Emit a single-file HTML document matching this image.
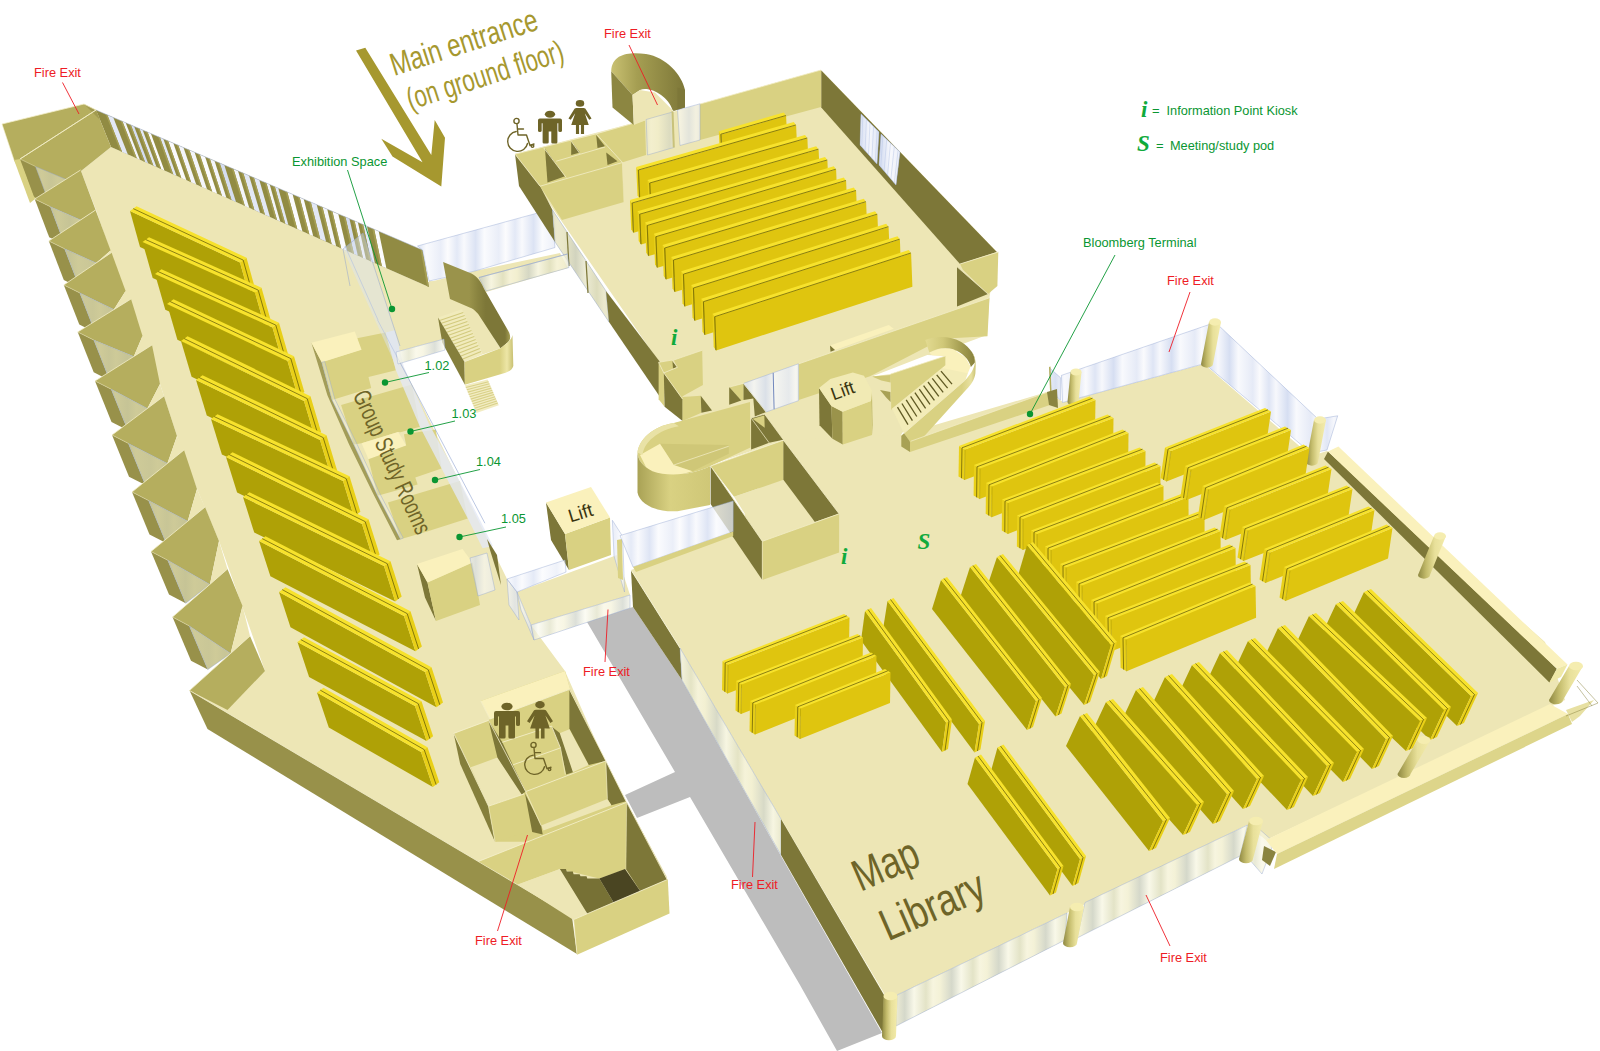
<!DOCTYPE html>
<html><head><meta charset="utf-8"><title>Library floor plan</title>
<style>html,body{margin:0;padding:0;background:#fff}svg{display:block}</style></head>
<body><svg width="1600" height="1051" viewBox="0 0 1600 1051">
<defs>
<linearGradient id="gl" x1="0" y1="0" x2="58" y2="0" gradientUnits="userSpaceOnUse" spreadMethod="repeat">
<stop offset="0" stop-color="#F7F8FC"/><stop offset="0.2" stop-color="#D3DCF1"/><stop offset="0.35" stop-color="#F9FAFD"/><stop offset="0.6" stop-color="#E4E9F6"/><stop offset="0.72" stop-color="#FBFBFD"/><stop offset="0.88" stop-color="#DCE3F4"/><stop offset="1" stop-color="#F7F8FC"/>
</linearGradient>
<linearGradient id="gly" x1="0" y1="0" x2="47" y2="0" gradientUnits="userSpaceOnUse" spreadMethod="repeat">
<stop offset="0" stop-color="#F4F2D8"/><stop offset="0.25" stop-color="#CDD2C8"/><stop offset="0.45" stop-color="#FAFAEE"/><stop offset="0.7" stop-color="#DFE0C4"/><stop offset="0.85" stop-color="#F8F6E2"/><stop offset="1" stop-color="#F4F2D8"/>
</linearGradient>
<linearGradient id="pil" x1="0" y1="0" x2="1" y2="0">
<stop offset="0" stop-color="#8E8842"/><stop offset="0.3" stop-color="#C4BC6C"/><stop offset="0.6" stop-color="#E8E09A"/><stop offset="1" stop-color="#F4ECAC"/>
</linearGradient>
<linearGradient id="curv" x1="0" y1="0" x2="1" y2="0">
<stop offset="0" stop-color="#A9A255"/><stop offset="0.45" stop-color="#D9D182"/><stop offset="1" stop-color="#CFC777"/>
</linearGradient>
<linearGradient id="curvd" x1="0" y1="0" x2="1" y2="0">
<stop offset="0" stop-color="#C9C172"/><stop offset="0.35" stop-color="#A59E52"/><stop offset="1" stop-color="#7D7738"/>
</linearGradient>
<linearGradient id="ribg" x1="443" y1="0" x2="512" y2="0" gradientUnits="userSpaceOnUse">
<stop offset="0" stop-color="#9A934B"/><stop offset="0.38" stop-color="#9A934B"/><stop offset="0.5" stop-color="#8A8440"/><stop offset="0.62" stop-color="#7D7738"/><stop offset="0.9" stop-color="#7D7738"/><stop offset="1" stop-color="#B5AE5E"/>
</linearGradient>
<linearGradient id="frontg" x1="464" y1="0" x2="514" y2="0" gradientUnits="userSpaceOnUse">
<stop offset="0" stop-color="#D9D182"/><stop offset="0.72" stop-color="#D9D182"/><stop offset="0.86" stop-color="#EDE6A6"/><stop offset="1" stop-color="#C4BC6C"/>
</linearGradient>
<linearGradient id="cresc" x1="925" y1="0" x2="976" y2="0" gradientUnits="userSpaceOnUse">
<stop offset="0" stop-color="#E3DB92"/><stop offset="0.35" stop-color="#D0C878"/><stop offset="0.7" stop-color="#A59E52"/><stop offset="1" stop-color="#857F3C"/>
</linearGradient>
<linearGradient id="outerg" x1="905" y1="0" x2="976" y2="0" gradientUnits="userSpaceOnUse">
<stop offset="0" stop-color="#D9D182"/><stop offset="0.8" stop-color="#D9D182"/><stop offset="0.93" stop-color="#E8E1A0"/><stop offset="1" stop-color="#C9C172"/>
</linearGradient>
</defs>
<rect width="1600" height="1051" fill="#fff"/>
<polygon points="587,622 633,607 682,680 781,856 882,1033 837,1051 800,985 690,797 637,818 625,795 675,772" fill="#BDBDBD"/>
<polygon points="111,147 429,287 429,281 470,285 486,292 510,338 444,339 396,352 507,579 517,592 531,625 565,671 605,762 626,801 667,877 572,917 189.5,690.5 265,671 242,606 219,541 197,489 177,436 160,384 142,337 125,292 110,251 96,210 81,171" fill="#EDE6B5"/>
<polygon points="425,283 475,271 560,253 568,268 486,292 470,288" fill="#EDE6B5"/>
<polygon points="517,592 617,555 630,595 531,625" fill="#EDE6B5"/>
<polygon points="96,110 422.5,250 429,287 111,147" fill="#918B43"/>
<polygon points="107.4,114.9 113.3,117.4 127.9,154.4 122.1,151.9" fill="#E3E8F5"/>
<polygon points="122.4,121.3 125.7,122.7 139.9,159.7 136.8,158.3" fill="#F4F5FA"/>
<polygon points="130.9,125 134.2,126.4 148.2,163.4 145,162" fill="#D5DDF0"/>
<polygon points="139.4,128.6 142.7,130 156.5,167 153.3,165.6" fill="#E3E8F5"/>
<polygon points="147.6,132.1 150.9,133.5 164.4,170.5 161.2,169.1" fill="#FBFBFD"/>
<polygon points="160,137.4 163.3,138.8 176.5,175.8 173.3,174.4" fill="#E3E8F5"/>
<polygon points="168.2,140.9 173.4,143.2 186.4,180.2 181.3,177.9" fill="#FBFBFD"/>
<polygon points="178.3,145.3 183.5,147.5 196.2,184.5 191.1,182.3" fill="#F4F5FA"/>
<polygon points="189.4,150 194.6,152.3 207,189.3 201.9,187" fill="#F4F5FA"/>
<polygon points="199.8,154.5 205.1,156.8 217.2,193.8 212.1,191.5" fill="#FBFBFD"/>
<polygon points="209.9,158.9 214.5,160.8 226.4,197.8 222,195.9" fill="#F4F5FA"/>
<polygon points="219.7,163.1 224.3,165 236,202 231.5,200.1" fill="#D5DDF0"/>
<polygon points="233.5,168.9 238,170.9 249.3,207.9 244.9,205.9" fill="#F4F5FA"/>
<polygon points="243.3,173.1 249.1,175.7 260.1,212.7 254.4,210.1" fill="#E3E8F5"/>
<polygon points="254,177.8 259.3,180 270,217 264.9,214.8" fill="#E3E8F5"/>
<polygon points="266.4,183.1 269.7,184.5 280.2,221.5 277,220.1" fill="#F4F5FA"/>
<polygon points="274.9,186.7 278.2,188.1 288.4,225.1 285.3,223.7" fill="#E3E8F5"/>
<polygon points="287.3,192 292.6,194.3 302.4,231.3 297.3,229" fill="#FBFBFD"/>
<polygon points="299.7,197.4 303.7,199 313.2,236 309.4,234.4" fill="#FBFBFD"/>
<polygon points="310.8,202.1 316.7,204.6 326,241.6 320.2,239.1" fill="#E3E8F5"/>
<polygon points="322.6,207.2 327.2,209.1 336.1,246.1 331.7,244.2" fill="#F4F5FA"/>
<polygon points="332.4,211.4 338.3,213.9 347,250.9 341.2,248.4" fill="#FBFBFD"/>
<polygon points="345.4,217 349.4,218.6 357.8,255.6 354,254" fill="#D5DDF0"/>
<polygon points="354.6,220.9 357.9,222.3 366,259.3 362.9,257.9" fill="#F4F5FA"/>
<polygon points="363.1,224.5 367,226.2 374.9,263.2 371.1,261.5" fill="#E3E8F5"/>
<polygon points="374.2,229.3 378.7,231.2 386.4,268.2 381.9,266.3" fill="#FBFBFD"/>
<polygon points="105.5,114.1 107.4,114.9 122.1,151.9 120.2,151.1" fill="#A59E53"/>
<polygon points="120.5,120.5 122.4,121.3 136.8,158.3 134.8,157.5" fill="#A59E53"/>
<polygon points="129.1,124.2 130.9,125 145,162 143.2,161.2" fill="#A59E53"/>
<polygon points="137.6,127.8 139.4,128.6 153.3,165.6 151.5,164.8" fill="#A59E53"/>
<polygon points="145.9,131.4 147.6,132.1 161.2,169.1 159.6,168.4" fill="#A59E53"/>
<polygon points="158,136.6 160,137.4 173.3,174.4 171.4,173.6" fill="#A59E53"/>
<polygon points="166.4,140.2 168.2,140.9 181.3,177.9 179.6,177.2" fill="#A59E53"/>
<polygon points="176.6,144.5 178.3,145.3 191.1,182.3 189.5,181.5" fill="#A59E53"/>
<polygon points="187.4,149.2 189.4,150 201.9,187 200,186.2" fill="#A59E53"/>
<polygon points="198,153.7 199.8,154.5 212.1,191.5 210.3,190.7" fill="#A59E53"/>
<polygon points="208.2,158.1 209.9,158.9 222,195.9 220.3,195.1" fill="#A59E53"/>
<polygon points="217.9,162.3 219.7,163.1 231.5,200.1 229.7,199.3" fill="#A59E53"/>
<polygon points="231.5,168.1 233.5,168.9 244.9,205.9 243,205.1" fill="#A59E53"/>
<polygon points="241.4,172.4 243.3,173.1 254.4,210.1 252.6,209.4" fill="#A59E53"/>
<polygon points="252.3,177 254,177.8 264.9,214.8 263.2,214" fill="#A59E53"/>
<polygon points="264.5,182.2 266.4,183.1 277,220.1 275.1,219.2" fill="#A59E53"/>
<polygon points="273.1,185.9 274.9,186.7 285.3,223.7 283.5,222.9" fill="#A59E53"/>
<polygon points="285.4,191.2 287.3,192 297.3,229 295.4,228.2" fill="#A59E53"/>
<polygon points="297.8,196.5 299.7,197.4 309.4,234.4 307.5,233.5" fill="#A59E53"/>
<polygon points="308.9,201.3 310.8,202.1 320.2,239.1 318.3,238.3" fill="#A59E53"/>
<polygon points="320.6,206.3 322.6,207.2 331.7,244.2 329.8,243.3" fill="#A59E53"/>
<polygon points="330.6,210.6 332.4,211.4 341.2,248.4 339.5,247.6" fill="#A59E53"/>
<polygon points="343.5,216.1 345.4,217 354,254 352,253.1" fill="#A59E53"/>
<polygon points="352.8,220.1 354.6,220.9 362.9,257.9 361.1,257.1" fill="#A59E53"/>
<polygon points="361.2,223.7 363.1,224.5 371.1,261.5 369.3,260.7" fill="#A59E53"/>
<polygon points="372.2,228.4 374.2,229.3 381.9,266.3 380,265.4" fill="#A59E53"/>
<polygon points="420.5,249.2 422.5,250 429,287 427.1,286.2" fill="#A59E53"/>
<polyline points="96,110 422.5,250" fill="none" stroke="#A9B6D8" stroke-width="0.5"/>
<polygon points="2,124 84,104 96,110 111,147 81,171 35,199 14,160" fill="#B5AE5E"/>
<polygon points="14,160 20.5,159 35,199 30,203" fill="#D9D182"/>
<polygon points="84,104 96,110 111,147 100,120" fill="#A29B50"/>
<polyline points="2,124 84,104 96,110 20,159" fill="none" stroke="#F3EEC8" stroke-width="0.8"/>
<polyline points="2,124 14,160" fill="none" stroke="#F3EEC8" stroke-width="0.6"/>
<polygon points="20,159 35.5,166.5 49.5,204 34,196.5" fill="#98914A"/>
<polygon points="35.5,166.5 65.9,179.3 49.5,204" fill="#C2BD7C"/>
<polygon points="35.5,166.5 65.9,179.3 49.5,204" fill="url(#gl)" opacity="0.22"/>
<polygon points="35.5,166.5 65.9,179.3 49.5,204" fill="none" stroke="#8FA3D0" stroke-width="0.5" opacity="0.8"/>
<polyline points="20,159 96,110" fill="none" stroke="#F3EEC8" stroke-width="0.8"/>
<polyline points="20,159 35.5,166.5" fill="none" stroke="#E8E2B0" stroke-width="0.5"/>
<polygon points="34.7,199 80.6,170 95.6,210 80.6,219.9 50.4,206.7" fill="#B5AE5E"/>
<polygon points="95.6,210 80.6,219.9 95.6,210" fill="#EDE6B5"/>
<polygon points="34.7,199 50.4,206.7 64.8,244.9 49.2,237.2" fill="#98914A"/>
<polygon points="50.4,206.7 80.6,219.9 64.8,244.9" fill="#C2BD7C"/>
<polygon points="50.4,206.7 80.6,219.9 64.8,244.9" fill="url(#gl)" opacity="0.22"/>
<polygon points="50.4,206.7 80.6,219.9 64.8,244.9" fill="none" stroke="#8FA3D0" stroke-width="0.5" opacity="0.8"/>
<polyline points="34.7,199 80.6,170" fill="none" stroke="#F3EEC8" stroke-width="0.8"/>
<polyline points="34.7,199 50.4,206.7" fill="none" stroke="#E8E2B0" stroke-width="0.5"/>
<polygon points="48.8,241 95.6,210 110.6,250.6 96.2,262.9 64.6,248.8" fill="#B5AE5E"/>
<polygon points="110.6,250.6 96.2,262.9 111.5,252.5" fill="#EDE6B5"/>
<polygon points="48.8,241 64.6,248.8 79.6,287.7 63.8,279.9" fill="#98914A"/>
<polygon points="64.6,248.8 96.2,262.9 79.6,287.7" fill="#C2BD7C"/>
<polygon points="64.6,248.8 96.2,262.9 79.6,287.7" fill="url(#gl)" opacity="0.22"/>
<polygon points="64.6,248.8 96.2,262.9 79.6,287.7" fill="none" stroke="#8FA3D0" stroke-width="0.5" opacity="0.8"/>
<polyline points="48.8,241 95.6,210" fill="none" stroke="#F3EEC8" stroke-width="0.8"/>
<polyline points="48.8,241 64.6,248.8" fill="none" stroke="#E8E2B0" stroke-width="0.5"/>
<polygon points="63.8,285 111.5,252.5 125.6,291 113.9,309.6 79.8,292.9" fill="#B5AE5E"/>
<polygon points="125.6,291 113.9,309.6 131,299" fill="#EDE6B5"/>
<polygon points="63.8,285 79.8,292.9 95.2,332.6 79.3,324.6" fill="#98914A"/>
<polygon points="79.8,292.9 113.9,309.6 95.2,332.6" fill="#C2BD7C"/>
<polygon points="79.8,292.9 113.9,309.6 95.2,332.6" fill="url(#gl)" opacity="0.22"/>
<polygon points="79.8,292.9 113.9,309.6 95.2,332.6" fill="none" stroke="#8FA3D0" stroke-width="0.5" opacity="0.8"/>
<polyline points="63.8,285 111.5,252.5" fill="none" stroke="#F3EEC8" stroke-width="0.8"/>
<polyline points="63.8,285 79.8,292.9" fill="none" stroke="#E8E2B0" stroke-width="0.5"/>
<polygon points="77.7,332 131,299 142.5,336 133.8,356.5 93.8,340.1" fill="#B5AE5E"/>
<polygon points="142.5,336 133.8,356.5 152,345" fill="#EDE6B5"/>
<polygon points="77.7,332 93.8,340.1 109.8,380.4 93.7,372.3" fill="#98914A"/>
<polygon points="93.8,340.1 133.8,356.5 109.8,380.4" fill="#C2BD7C"/>
<polygon points="93.8,340.1 133.8,356.5 109.8,380.4" fill="url(#gl)" opacity="0.22"/>
<polygon points="93.8,340.1 133.8,356.5 109.8,380.4" fill="none" stroke="#8FA3D0" stroke-width="0.5" opacity="0.8"/>
<polyline points="77.7,332 131,299" fill="none" stroke="#F3EEC8" stroke-width="0.8"/>
<polyline points="77.7,332 93.8,340.1" fill="none" stroke="#E8E2B0" stroke-width="0.5"/>
<polygon points="95,381 152,345 160,384 147.4,408.5 111.2,389.2" fill="#B5AE5E"/>
<polygon points="160,384 147.4,408.5 164,396" fill="#EDE6B5"/>
<polygon points="95,381 111.2,389.2 127.8,430.2 111.5,422" fill="#98914A"/>
<polygon points="111.2,389.2 147.4,408.5 127.8,430.2" fill="#C2BD7C"/>
<polygon points="111.2,389.2 147.4,408.5 127.8,430.2" fill="url(#gl)" opacity="0.22"/>
<polygon points="111.2,389.2 147.4,408.5 127.8,430.2" fill="none" stroke="#8FA3D0" stroke-width="0.5" opacity="0.8"/>
<polyline points="95,381 152,345" fill="none" stroke="#F3EEC8" stroke-width="0.8"/>
<polyline points="95,381 111.2,389.2" fill="none" stroke="#E8E2B0" stroke-width="0.5"/>
<polygon points="112,435 164,396 177,436 167.4,463.4 128.4,443.4" fill="#B5AE5E"/>
<polygon points="177,436 167.4,463.4 184,450" fill="#EDE6B5"/>
<polygon points="112,435 128.4,443.4 145.4,485.1 129,476.7" fill="#98914A"/>
<polygon points="128.4,443.4 167.4,463.4 145.4,485.1" fill="#C2BD7C"/>
<polygon points="128.4,443.4 167.4,463.4 145.4,485.1" fill="url(#gl)" opacity="0.22"/>
<polygon points="128.4,443.4 167.4,463.4 145.4,485.1" fill="none" stroke="#8FA3D0" stroke-width="0.5" opacity="0.8"/>
<polyline points="112,435 164,396" fill="none" stroke="#F3EEC8" stroke-width="0.8"/>
<polyline points="112,435 128.4,443.4" fill="none" stroke="#E8E2B0" stroke-width="0.5"/>
<polygon points="132,492 184,450 197,489 187.7,521.2 148.6,500.6" fill="#B5AE5E"/>
<polygon points="197,489 187.7,521.2 205,507" fill="#EDE6B5"/>
<polygon points="132,492 148.6,500.6 166.1,543 149.5,534.4" fill="#98914A"/>
<polygon points="148.6,500.6 187.7,521.2 166.1,543" fill="#C2BD7C"/>
<polygon points="148.6,500.6 187.7,521.2 166.1,543" fill="url(#gl)" opacity="0.22"/>
<polygon points="148.6,500.6 187.7,521.2 166.1,543" fill="none" stroke="#8FA3D0" stroke-width="0.5" opacity="0.8"/>
<polyline points="132,492 184,450" fill="none" stroke="#F3EEC8" stroke-width="0.8"/>
<polyline points="132,492 148.6,500.6" fill="none" stroke="#E8E2B0" stroke-width="0.5"/>
<polygon points="151,551.5 205,507 219,541 209.9,584.4 167.7,560.2" fill="#B5AE5E"/>
<polygon points="219,541 209.9,584.4 227.5,569" fill="#EDE6B5"/>
<polygon points="151,551.5 167.7,560.2 185.7,603.3 169,594.6" fill="#98914A"/>
<polygon points="167.7,560.2 209.9,584.4 185.7,603.3" fill="#C2BD7C"/>
<polygon points="167.7,560.2 209.9,584.4 185.7,603.3" fill="url(#gl)" opacity="0.22"/>
<polygon points="167.7,560.2 209.9,584.4 185.7,603.3" fill="none" stroke="#8FA3D0" stroke-width="0.5" opacity="0.8"/>
<polyline points="151,551.5 205,507" fill="none" stroke="#F3EEC8" stroke-width="0.8"/>
<polyline points="151,551.5 167.7,560.2" fill="none" stroke="#E8E2B0" stroke-width="0.5"/>
<polygon points="172.5,617 227.5,569 242.5,606 230.6,653.4 189.3,625.9" fill="#B5AE5E"/>
<polygon points="242.5,606 230.6,653.4 250,636" fill="#EDE6B5"/>
<polygon points="172.5,617 189.3,625.9 207.8,669.6 191,660.8" fill="#98914A"/>
<polygon points="189.3,625.9 230.6,653.4 207.8,669.6" fill="#C2BD7C"/>
<polygon points="189.3,625.9 230.6,653.4 207.8,669.6" fill="url(#gl)" opacity="0.22"/>
<polygon points="189.3,625.9 230.6,653.4 207.8,669.6" fill="none" stroke="#8FA3D0" stroke-width="0.5" opacity="0.8"/>
<polyline points="172.5,617 227.5,569" fill="none" stroke="#F3EEC8" stroke-width="0.8"/>
<polyline points="172.5,617 189.3,625.9" fill="none" stroke="#E8E2B0" stroke-width="0.5"/>
<polygon points="189.5,690.5 250,636 265,671 227.5,710" fill="#B5AE5E"/>
<polyline points="189.5,690.5 250,636" fill="none" stroke="#F3EEC8" stroke-width="0.8"/>
<polygon points="189.5,690.5 572,917 577,954 207.5,729" fill="#98914A"/>
<polyline points="189.5,690.5 572,917" fill="none" stroke="#F3EEC8" stroke-width="0.8"/>
<polygon points="130,211 240,262.5 250,298.5 140,247" fill="#AFA106"/>
<polygon points="130,211 136.5,206.2 246.5,257.7 240,262.5" fill="#F7E22C"/>
<polygon points="240,262.5 246.5,257.7 256.5,293.7 250,298.5" fill="#E9D018"/>
<polyline points="133.2,208.6 243.2,260.1 253.2,296.1" fill="none" stroke="#3F3A00" stroke-width="0.6"/>
<polygon points="142.5,242 255,292.5 265.1,328.4 152.7,277.9" fill="#AFA106"/>
<polygon points="142.5,242 149,237.2 261.5,287.7 255,292.5" fill="#F7E22C"/>
<polygon points="255,292.5 261.5,287.7 271.6,323.6 265.1,328.4" fill="#E9D018"/>
<polyline points="145.8,239.6 258.2,290.1 268.4,326" fill="none" stroke="#3F3A00" stroke-width="0.6"/>
<polygon points="155,274 272.5,327.5 282.8,363.3 165.3,309.8" fill="#AFA106"/>
<polygon points="155,274 161.5,269.2 279,322.7 272.5,327.5" fill="#F7E22C"/>
<polygon points="272.5,327.5 279,322.7 289.3,358.5 282.8,363.3" fill="#E9D018"/>
<polyline points="158.2,271.6 275.8,325.1 286.1,360.9" fill="none" stroke="#3F3A00" stroke-width="0.6"/>
<polygon points="167,304 287.5,361 297.9,396.8 177.4,339.8" fill="#AFA106"/>
<polygon points="167,304 173.5,299.2 294,356.2 287.5,361" fill="#F7E22C"/>
<polygon points="287.5,361 294,356.2 304.4,392 297.9,396.8" fill="#E9D018"/>
<polyline points="170.2,301.6 290.8,358.6 301.2,394.4" fill="none" stroke="#3F3A00" stroke-width="0.6"/>
<polygon points="181,341 304,401 314.6,436.7 191.6,376.7" fill="#AFA106"/>
<polygon points="181,341 187.5,336.2 310.5,396.2 304,401" fill="#F7E22C"/>
<polygon points="304,401 310.5,396.2 321.1,431.9 314.6,436.7" fill="#E9D018"/>
<polyline points="184.2,338.6 307.2,398.6 317.9,434.3" fill="none" stroke="#3F3A00" stroke-width="0.6"/>
<polygon points="196,380 320,440 330.8,475.6 206.8,415.6" fill="#AFA106"/>
<polygon points="196,380 202.5,375.2 326.5,435.2 320,440" fill="#F7E22C"/>
<polygon points="320,440 326.5,435.2 337.2,470.8 330.8,475.6" fill="#E9D018"/>
<polyline points="199.2,377.6 323.2,437.6 334,473.2" fill="none" stroke="#3F3A00" stroke-width="0.6"/>
<polygon points="211,419 343,481 353.9,516.5 221.9,454.5" fill="#AFA106"/>
<polygon points="211,419 217.5,414.2 349.5,476.2 343,481" fill="#F7E22C"/>
<polygon points="343,481 349.5,476.2 360.4,511.7 353.9,516.5" fill="#E9D018"/>
<polyline points="214.2,416.6 346.2,478.6 357.1,514.1" fill="none" stroke="#3F3A00" stroke-width="0.6"/>
<polygon points="226,457 362,524 373.1,559.4 237.1,492.4" fill="#AFA106"/>
<polygon points="226,457 232.5,452.2 368.5,519.2 362,524" fill="#F7E22C"/>
<polygon points="362,524 368.5,519.2 379.6,554.6 373.1,559.4" fill="#E9D018"/>
<polyline points="229.2,454.6 365.2,521.6 376.3,557" fill="none" stroke="#3F3A00" stroke-width="0.6"/>
<polygon points="243,497 384,566 395.2,601.4 254.2,532.4" fill="#AFA106"/>
<polygon points="243,497 249.5,492.2 390.5,561.2 384,566" fill="#F7E22C"/>
<polygon points="384,566 390.5,561.2 401.7,596.6 395.2,601.4" fill="#E9D018"/>
<polyline points="246.2,494.6 387.2,563.6 398.4,599" fill="none" stroke="#3F3A00" stroke-width="0.6"/>
<polygon points="259,541 404,616 415.4,651.3 270.4,576.3" fill="#AFA106"/>
<polygon points="259,541 265.5,536.2 410.5,611.2 404,616" fill="#F7E22C"/>
<polygon points="404,616 410.5,611.2 421.9,646.5 415.4,651.3" fill="#E9D018"/>
<polyline points="262.2,538.6 407.2,613.6 418.6,648.9" fill="none" stroke="#3F3A00" stroke-width="0.6"/>
<polygon points="279,592 425,672 436.5,707.2 290.5,627.2" fill="#AFA106"/>
<polygon points="279,592 285.5,587.2 431.5,667.2 425,672" fill="#F7E22C"/>
<polygon points="425,672 431.5,667.2 443,702.4 436.5,707.2" fill="#E9D018"/>
<polyline points="282.2,589.6 428.2,669.6 439.8,704.8" fill="none" stroke="#3F3A00" stroke-width="0.6"/>
<polygon points="297.5,642 415,706 426.6,741.1 309.1,677.1" fill="#AFA106"/>
<polygon points="297.5,642 304,637.2 421.5,701.2 415,706" fill="#F7E22C"/>
<polygon points="415,706 421.5,701.2 433.1,736.3 426.6,741.1" fill="#E9D018"/>
<polyline points="300.8,639.6 418.2,703.6 429.9,738.7" fill="none" stroke="#3F3A00" stroke-width="0.6"/>
<polygon points="317,692.5 421,752 432.8,787 328.8,727.5" fill="#AFA106"/>
<polygon points="317,692.5 323.5,687.7 427.5,747.2 421,752" fill="#F7E22C"/>
<polygon points="421,752 427.5,747.2 439.3,782.2 432.8,787" fill="#E9D018"/>
<polyline points="320.2,690.1 424.2,749.6 436.1,784.6" fill="none" stroke="#3F3A00" stroke-width="0.6"/>
<polygon points="311.4,342.8 321.7,362.2 332,399.9 353.7,444.4 377.6,495.8 400.5,539.2 397,540.3 373.1,493.5 349.1,444.4 327.4,395.3" fill="#A39D58"/>
<polygon points="321.7,362.2 360.5,349.7 357.1,338.3 385.6,332.6 395.9,370.2 368.5,377.1 371.2,388 332,399.9" fill="#D9D182"/>
<polygon points="311.4,342.8 354.8,331.4 361.6,349.7 321.7,362.2" fill="#FAF1BC"/>
<polygon points="341.1,404.9 411.9,384.6 419.9,426.8 400.5,432.3 398.2,431.9 361.6,443.3 353.7,444.4" fill="#D9D182"/>
<polygon points="361.6,443.3 398.2,431.9 406.2,445.6 368.5,459.3" fill="#FAF1BC"/>
<polygon points="368.5,459.3 406.2,445.6 403.9,434.2 435.8,429.6 441.6,468.4 415.3,477.5 417.6,484.4 377.6,495.8" fill="#D9D182"/>
<polygon points="387.9,502.6 459.8,481 467.8,518.6 427.9,531.2 400.5,539.2" fill="#D9D182"/>
<polygon points="321.7,362.2 332,399.9 353.7,444.4 377.6,495.8 400.5,539.2 403.2,538 380.4,494.7 356.6,443.3 334.7,398.8 324.7,361.6" fill="url(#gl)" opacity="0.3"/>
<polygon points="321.7,362.2 332,399.9 353.7,444.4 377.6,495.8 400.5,539.2 403.2,538 380.4,494.7 356.6,443.3 334.7,398.8 324.7,361.6" fill="none" stroke="#8FA3D0" stroke-width="0.5" opacity="0.8"/>
<polygon points="385.6,332.6 395.9,370.2 419.9,426.8 441.6,468.4 467.8,518.6 482.6,548.3 492.9,546 478.1,516.3 451.8,466.1 429,423.9 403.9,366.8 394.7,330.3" fill="#E3E9F5" opacity="0.8"/>
<polyline points="377.6,320 484.9,523.2" fill="none" stroke="#8FA3D0" stroke-width="0.6"/>
<polyline points="345,246 378,320" fill="none" stroke="#8FA3D0" stroke-width="0.6"/>
<polygon points="343,249 363,233 400,346 394,362" fill="#DCE4F4" opacity="0.45"/>
<polyline points="343,249 363,233 400,346" fill="none" stroke="#8FA3D0" stroke-width="0.5"/>
<polyline points="343,249 350,286" fill="none" stroke="#8FA3D0" stroke-width="0.5"/>
<polygon points="417,564 427.5,582.5 436,621 425,597.5" fill="#7D7738"/>
<polygon points="427.5,582.5 472.5,562.5 480,605 436,621" fill="#D9D182"/>
<polygon points="417,564 462.5,549 472.5,562.5 427.5,582.5" fill="#FAF1BC"/>
<polygon points="470,558 487,553 495,590 478,596" fill="url(#gl)" opacity="0.6"/>
<polygon points="470,558 487,553 495,590 478,596" fill="none" stroke="#8FA3D0" stroke-width="0.5" opacity="0.8"/>
<polygon points="487,539 497,555 501,585 490,550" fill="#7D7738"/>
<polygon points="507,579 517,592 519,620 509,605" fill="url(#gl)" opacity="0.7"/>
<polygon points="507,579 517,592 519,620 509,605" fill="none" stroke="#8FA3D0" stroke-width="0.5" opacity="0.8"/>
<polygon points="517,592 531,625 534,640 521,610" fill="url(#gl)" opacity="0.7"/>
<polygon points="517,592 531,625 534,640 521,610" fill="none" stroke="#8FA3D0" stroke-width="0.5" opacity="0.8"/>
<polygon points="546,502.5 565,534 569,570 551,540" fill="#7D7738"/>
<polygon points="565,534 610,517.5 611,555 569,570" fill="#D9D182"/>
<polygon points="546,502.5 591,487 610,517.5 565,534" fill="#FAF1BC"/>
<polygon points="507,579 565,560 566,572 517,592" fill="url(#gl)" opacity="0.6"/>
<polygon points="507,579 565,560 566,572 517,592" fill="none" stroke="#8FA3D0" stroke-width="0.5" opacity="0.8"/>
<polygon points="612.4,520.3 622.7,536.5 624.5,592 614,556" fill="url(#gl)" opacity="0.7"/>
<polygon points="612.4,520.3 622.7,536.5 624.5,592 614,556" fill="none" stroke="#8FA3D0" stroke-width="0.5" opacity="0.8"/>
<polygon points="531,625 630,595 630,608 534,640" fill="url(#gly)" opacity="0.7"/>
<polygon points="531,625 630,595 630,608 534,640" fill="none" stroke="#8FA3D0" stroke-width="0.5" opacity="0.8"/>
<polygon points="617,540 622,539 623,580 618,578" fill="#D9D182"/>
<polygon points="453.7,733.4 488.5,720.4 490,719 480.9,701 565,670.9 570,689.1 605.8,760.9 626,801.3 626,809.4 530.6,841.7 495,841.7" fill="#D9D182"/>
<polygon points="480.9,701 565,670.9 570,689.1 490,719" fill="#FAF1BC"/>
<polygon points="558.9,733.4 569.4,729.3 588.8,764.9 572.6,772.2" fill="#EDE6B5"/>
<polygon points="551.6,726.6 559.7,733 572.9,772.2 566.2,774.6 560.5,747.9" fill="#7D7738"/>
<polygon points="569.4,689.4 605.8,760.9 588.8,764.9 569.4,728.5" fill="#7D7738"/>
<polygon points="605.8,760.9 626,801.3 611.4,805.3 607.4,798.9 606.6,777" fill="#7D7738"/>
<polygon points="470.7,767.3 497.4,757.6 524.1,794 488.5,806.2" fill="#EDE6B5"/>
<polygon points="453.7,733.4 488.5,806.2 495,841.7 460.2,764.1" fill="#857F3C"/>
<polygon points="488.5,806.2 524.1,794 530.6,831.2 495,841.7" fill="#D9D182"/>
<polygon points="488.5,720.4 502.3,742.3 512.8,764.9 525.7,791.6 521.7,794.5 497.4,757.6" fill="#7D7738"/>
<polygon points="541.1,825.6 607.4,798.9 611.4,805.3 543.5,830.4" fill="#EDE6B5"/>
<polygon points="524.9,793.2 541.1,825.6 542.7,834.5 532.2,832" fill="#7D7738"/>
<polyline points="453.7,733.4 488.5,720.4 525.7,791.6 605.8,760.9" fill="none" stroke="#F6F1CF" stroke-width="0.8"/>
<polyline points="453.7,733.4 488.5,806.2 524.1,794" fill="none" stroke="#F6F1CF" stroke-width="0.8"/>
<polyline points="488.5,806.2 495,841.7" fill="none" stroke="#F6F1CF" stroke-width="0.6"/>
<polyline points="480.9,701 490,719 569.4,689.4" fill="none" stroke="#F6F1CF" stroke-width="0.8"/>
<polyline points="502.3,742.3 551.6,726.1 560.5,747.9 512.8,764.9" fill="none" stroke="#F6F1CF" stroke-width="0.8"/>
<polyline points="560.5,747.9 565.3,774.6" fill="none" stroke="#F6F1CF" stroke-width="0.6"/>
<polyline points="525.7,791.6 541.1,825.6" fill="none" stroke="#F6F1CF" stroke-width="0.7"/>
<polyline points="569.4,689.4 605.8,760.9 626,801.3" fill="none" stroke="#F6F1CF" stroke-width="0.8"/>
<polyline points="605.8,760.9 607.4,798.9" fill="none" stroke="#F6F1CF" stroke-width="0.6"/>
<polygon points="478.5,861.4 626.7,802.3 625.9,869.1 599.3,878.5 559.9,869.1 517.9,884.5" fill="#D9D182"/>
<polyline points="478.5,861.4 626.7,802.3" fill="none" stroke="#F6F1CF" stroke-width="0.8"/>
<polygon points="626.7,802.3 667.5,879.7 640.4,891.3 625.9,869.1" fill="#7D7738"/>
<polyline points="626.7,802.3 667,879.3" fill="none" stroke="#F6F1CF" stroke-width="0.8"/>
<polyline points="626.7,802.3 625.9,869.1" fill="none" stroke="#EDE6B5" stroke-width="0.5"/>
<polygon points="517.9,884.5 559.9,869.1 587.7,914.3 573.6,919.9" fill="#EDE6B5"/>
<polygon points="559.9,869.1 565.9,869.1 566.8,871.6 572.8,871.6 573.6,874.2 579.6,874.2 580.5,876.3 586.5,876.3 587.3,878.5 599.3,878.5 613.9,903 587.7,914.3" fill="#777135"/>
<polygon points="599.3,878.5 625,869.1 640.4,891.3 613.9,903" fill="#4A4522"/>
<polygon points="573.6,919.6 667.8,879.3 669.5,913.6 577,954.7" fill="#D9D182"/>
<polyline points="573.6,919.6 667.8,879.3" fill="none" stroke="#F6F1CF" stroke-width="0.8"/>
<polyline points="573.6,919.6 577,954.7" fill="none" stroke="#F6F1CF" stroke-width="0.6"/>
<polygon points="515,154 645,120 700,104 821,70 997,252 989.4,297.8 987,335 960,345 901,435 835,514 784,440 710,465 675,423 683,421 665,398 659,362" fill="#EDE6B5"/>
<polygon points="631,570 735,533 784,440 901,435 1047,392 1063,402 1204,364 1311,456 1327,451 1545,642 1565,700 1266,840 1247,825 1067,913 897,995 885,995 781,819 680,648" fill="#EDE6B5"/>
<polygon points="417.5,246 534,214 551,209 555,247.5 475,271 429,281 422.5,250" fill="url(#gl)" opacity="0.8"/>
<polygon points="417.5,246 534,214 551,209 555,247.5 475,271 429,281 422.5,250" fill="none" stroke="#8FA3D0" stroke-width="0.5" opacity="0.8"/>
<polygon points="515,154 540,186 552.5,210 555,242 519,186" fill="#7D7738"/>
<polygon points="552.5,210 606,291 609,322 555,242" fill="#D9D6B0"/>
<polygon points="552.5,210 606,291 609,322 555,242" fill="url(#gly)" opacity="0.6"/>
<polygon points="552.5,210 606,291 609,322 555,242" fill="none" stroke="#8FA3D0" stroke-width="0.5" opacity="0.8"/>
<polyline points="567,232 569,266" fill="none" stroke="#7D7738" stroke-width="1.2"/>
<polyline points="586,261 588,293" fill="none" stroke="#7D7738" stroke-width="1.2"/>
<polygon points="606,291 660,362 660,397 609,322" fill="#7D7738"/>
<polygon points="479,277.5 567.5,254 569,267.5 486,291" fill="url(#gly)" opacity="0.75"/>
<polygon points="479,277.5 567.5,254 569,267.5 486,291" fill="none" stroke="#8FA3D0" stroke-width="0.5" opacity="0.8"/>
<polyline points="479,277.5 567.5,254" fill="none" stroke="#8FA3D0" stroke-width="0.5"/>
<polygon points="461.1,309.3 469.7,307.6 478.2,314 500.5,348.2 482.5,354.4" fill="#EDE6B5"/>
<path d="M443.1,261.9 L471.4,273.4 C477.4,276 481.6,282.8 484.7,290 L508.2,330.8 C510.8,335 510.8,339.3 508.2,341.9 L500.5,348.2 L478.2,314 C474.8,310.2 472.2,308.5 469.7,307.6 L450,299.1 Z" fill="url(#ribg)"/>
<polygon points="438,317.4 462,309.3 482.5,354.4 464.5,361.9" fill="#F1EBBC"/>
<polyline points="439.7,320.4 463.3,312.4" fill="none" stroke="#D2CA7E" stroke-width="1.1"/>
<polyline points="441.5,323.3 464.7,315.4" fill="none" stroke="#D2CA7E" stroke-width="1.1"/>
<polyline points="443.3,326.3 466.1,318.4" fill="none" stroke="#D2CA7E" stroke-width="1.1"/>
<polyline points="445.1,329.3 467.4,321.4" fill="none" stroke="#D2CA7E" stroke-width="1.1"/>
<polyline points="446.8,332.2 468.8,324.4" fill="none" stroke="#D2CA7E" stroke-width="1.1"/>
<polyline points="448.6,335.2 470.2,327.4" fill="none" stroke="#D2CA7E" stroke-width="1.1"/>
<polyline points="450.4,338.2 471.5,330.4" fill="none" stroke="#D2CA7E" stroke-width="1.1"/>
<polyline points="452.1,341.1 472.9,333.4" fill="none" stroke="#D2CA7E" stroke-width="1.1"/>
<polyline points="453.9,344.1 474.3,336.4" fill="none" stroke="#D2CA7E" stroke-width="1.1"/>
<polyline points="455.7,347.1 475.7,339.4" fill="none" stroke="#D2CA7E" stroke-width="1.1"/>
<polyline points="457.4,350 477,342.4" fill="none" stroke="#D2CA7E" stroke-width="1.1"/>
<polyline points="459.2,353 478.4,345.4" fill="none" stroke="#D2CA7E" stroke-width="1.1"/>
<polyline points="461,356 479.8,348.4" fill="none" stroke="#D2CA7E" stroke-width="1.1"/>
<polyline points="462.8,358.9 481.1,351.4" fill="none" stroke="#D2CA7E" stroke-width="1.1"/>
<polygon points="438,317.4 464.5,361.9 464.9,384.7 442.3,342.7" fill="#857F3C"/>
<path d="M464.5,361.9 L500.5,348.2 L508.2,341.9 C510.8,339.3 512.1,337.6 512.5,335 L513.3,365.9 C512.5,369.3 509,371.5 505.6,372.7 L464.9,384.7 Z" fill="url(#frontg)"/>
<polygon points="464.9,385.2 487.6,379.6 498.8,405.2 476.5,412.9" fill="#F2ECC2"/>
<polyline points="465.8,387.5 488.6,381.7" fill="none" stroke="#D9D188" stroke-width="1.1"/>
<polyline points="466.8,389.8 489.5,383.8" fill="none" stroke="#D9D188" stroke-width="1.1"/>
<polyline points="467.8,392.1 490.4,386" fill="none" stroke="#D9D188" stroke-width="1.1"/>
<polyline points="468.7,394.5 491.3,388.1" fill="none" stroke="#D9D188" stroke-width="1.1"/>
<polyline points="469.7,396.8 492.3,390.3" fill="none" stroke="#D9D188" stroke-width="1.1"/>
<polyline points="470.7,399.1 493.2,392.4" fill="none" stroke="#D9D188" stroke-width="1.1"/>
<polyline points="471.7,401.4 494.1,394.5" fill="none" stroke="#D9D188" stroke-width="1.1"/>
<polyline points="472.6,403.7 495.1,396.7" fill="none" stroke="#D9D188" stroke-width="1.1"/>
<polyline points="473.6,406 496,398.8" fill="none" stroke="#D9D188" stroke-width="1.1"/>
<polyline points="474.6,408.3 496.9,401" fill="none" stroke="#D9D188" stroke-width="1.1"/>
<polyline points="475.5,410.6 497.8,403.1" fill="none" stroke="#D9D188" stroke-width="1.1"/>
<polygon points="396,352 444,339 445,350 398,364" fill="url(#gly)" opacity="0.7"/>
<polygon points="396,352 444,339 445,350 398,364" fill="none" stroke="#8FA3D0" stroke-width="0.5" opacity="0.8"/>
<polygon points="700,104 821,70 821,107 700,140" fill="#D9D182"/>
<polyline points="700,104 821,70" fill="none" stroke="#F3EEC8" stroke-width="0.8"/>
<polygon points="821.3,70.6 996.8,252 960,264 821.3,107.5" fill="#7D7738"/>
<polygon points="861,114 879,132 877,164 860,145" fill="#F1F3FA"/>
<polygon points="861,114 879,132 877,164 860,145" fill="url(#gl)" opacity="0.8"/>
<polygon points="861,114 879,132 877,164 860,145" fill="none" stroke="#8FA3D0" stroke-width="0.5" opacity="0.8"/>
<polygon points="881,134 900,152 896,185 879,165" fill="#F1F3FA"/>
<polygon points="881,134 900,152 896,185 879,165" fill="url(#gl)" opacity="0.8"/>
<polygon points="881,134 900,152 896,185 879,165" fill="none" stroke="#8FA3D0" stroke-width="0.5" opacity="0.8"/>
<polyline points="862.8,115.8 861.7,146.9" fill="none" stroke="#B9C6E6" stroke-width="0.5"/>
<polyline points="882.9,135.8 880.7,167" fill="none" stroke="#B9C6E6" stroke-width="0.5"/>
<polyline points="866.4,119.4 865.1,150.7" fill="none" stroke="#B9C6E6" stroke-width="0.5"/>
<polyline points="886.7,139.4 884.1,171" fill="none" stroke="#B9C6E6" stroke-width="0.5"/>
<polyline points="870,123 868.5,154.5" fill="none" stroke="#B9C6E6" stroke-width="0.5"/>
<polyline points="890.5,143 887.5,175" fill="none" stroke="#B9C6E6" stroke-width="0.5"/>
<polyline points="873.6,126.6 871.9,158.3" fill="none" stroke="#B9C6E6" stroke-width="0.5"/>
<polyline points="894.3,146.6 890.9,179" fill="none" stroke="#B9C6E6" stroke-width="0.5"/>
<polyline points="877.2,130.2 875.3,162.1" fill="none" stroke="#B9C6E6" stroke-width="0.5"/>
<polyline points="898.1,150.2 894.3,183" fill="none" stroke="#B9C6E6" stroke-width="0.5"/>
<polygon points="960,264 998.3,252 997.4,286 988,294 962.9,269.8" fill="#D9D182"/>
<polygon points="957,266.8 988,294 957,306.6" fill="#7D7738"/>
<polyline points="960,264 998.3,252" fill="none" stroke="#F3EEC8" stroke-width="0.8"/>
<polyline points="957,266.8 988,294" fill="none" stroke="#F3EEC8" stroke-width="0.7"/>
<polygon points="515,154 596,134 645,120 646,155 622,162.5 624,202 562,220 540,186" fill="#D9D182"/>
<polygon points="545,148.8 565,176.2 547.5,182.5" fill="#7D7738"/>
<polygon points="571.2,141.2 580,152.5 571.2,155" fill="#7D7738"/>
<polygon points="596.2,135 605,146.2 597.5,148" fill="#7D7738"/>
<polygon points="606.2,152.5 617.5,161.2 607.5,165" fill="#7D7738"/>
<polyline points="515,154.2 596.2,133.8 645,120" fill="none" stroke="#F3EEC8" stroke-width="0.8"/>
<polyline points="515,154.2 540,186.2 622.5,162.5 596.2,133.8" fill="none" stroke="#F3EEC8" stroke-width="0.8"/>
<polyline points="543.8,148 566.2,177.5" fill="none" stroke="#F3EEC8" stroke-width="0.8"/>
<polyline points="556.2,161.2 605,147" fill="none" stroke="#F3EEC8" stroke-width="0.8"/>
<polyline points="571.2,141.2 580,153.8" fill="none" stroke="#F3EEC8" stroke-width="0.8"/>
<polyline points="622.5,162.5 623.8,202.5" fill="none" stroke="#EDE6B5" stroke-width="0.6"/>
<path d="M611.2,71.2 C612,52 632,52 646,54 C666,57 682,75 685,90 L685,107.5 L673.8,111 L672.5,110 C668,96 650,86 640,90 L632.5,95 Z" fill="url(#curvd)"/>
<polygon points="611.2,71.2 632.5,95 633.8,125 612.5,107.5" fill="#8C8641"/>
<polygon points="632.5,95 640,90 655,92.5 672.5,110 672.5,113.8 646.2,120 633.8,125" fill="#EDE6B5"/>
<polygon points="677.5,87.5 685,90 685,107.5 677.5,110" fill="#7D7738"/>
<polygon points="646.2,119.5 672.5,112 673.8,147.5 647.5,155" fill="url(#gly)" opacity="0.55"/>
<polygon points="646.2,119.5 672.5,112 673.8,147.5 647.5,155" fill="none" stroke="#8FA3D0" stroke-width="0.5" opacity="0.8"/>
<polygon points="677.5,110 700,103.8 700,140 680,145.5" fill="url(#gl)" opacity="0.6"/>
<polygon points="677.5,110 700,103.8 700,140 680,145.5" fill="none" stroke="#8FA3D0" stroke-width="0.5" opacity="0.8"/>
<polyline points="672.5,111.2 673.8,147.5" fill="none" stroke="#C9C27A" stroke-width="2"/>
<polygon points="721.1,134.6 786.1,115.8 787.4,143.8 722.4,162.6" fill="#DFC50F"/>
<polygon points="718.8,131.2 721.1,134.6 722.4,162.6 720,159.2" fill="#E9D018"/>
<polygon points="718.8,131.2 783.8,112.5 786.1,115.8 721.1,134.6" fill="#F7E22C"/>
<polyline points="722.1,162.2 720.9,134.2 785.9,115.5" fill="none" stroke="#3F3A00" stroke-width="0.6"/>
<polyline points="722.4,162.6 721.1,134.6" fill="none" stroke="#8E8200" stroke-width="0.4"/>
<polygon points="638.6,170.3 796.1,125.3 797.4,153.8 639.9,198.8" fill="#DFC50F"/>
<polygon points="636.2,167 638.6,170.3 639.9,198.8 637.5,195.4" fill="#E9D018"/>
<polygon points="636.2,167 793.8,122 796.1,125.3 638.6,170.3" fill="#F7E22C"/>
<polyline points="639.6,198.4 638.4,170 795.9,125" fill="none" stroke="#3F3A00" stroke-width="0.6"/>
<polyline points="639.9,198.8 638.6,170.3" fill="none" stroke="#8E8200" stroke-width="0.4"/>
<polygon points="649.9,183.3 807.4,138.3 808.6,167.2 651.1,212.2" fill="#DFC50F"/>
<polygon points="647.5,180 649.9,183.3 651.1,212.2 648.7,208.9" fill="#E9D018"/>
<polygon points="647.5,180 805,135 807.4,138.3 649.9,183.3" fill="#F7E22C"/>
<polyline points="650.9,211.9 649.7,183 807.2,138" fill="none" stroke="#3F3A00" stroke-width="0.6"/>
<polyline points="651.1,212.2 649.9,183.3" fill="none" stroke="#8E8200" stroke-width="0.4"/>
<polygon points="632.4,203.3 818.6,149.6 819.9,178.9 633.6,232.7" fill="#DFC50F"/>
<polygon points="630,200 632.4,203.3 633.6,232.7 631.2,229.3" fill="#E9D018"/>
<polygon points="630,200 816.2,146.2 818.6,149.6 632.4,203.3" fill="#F7E22C"/>
<polyline points="633.4,232.3 632.2,203 818.4,149.2" fill="none" stroke="#3F3A00" stroke-width="0.6"/>
<polyline points="633.6,232.7 632.4,203.3" fill="none" stroke="#8E8200" stroke-width="0.4"/>
<polygon points="737.5,194.5 744,192.5 745,203.8 738.5,205.8" fill="#DFC50F"/>
<polygon points="737,193.9 743.5,191.9 746.6,196.1 740.1,198.1" fill="#DFC50F"/>
<polygon points="746.2,195.5 748.2,194.9 749.2,206.2 747.2,206.8" fill="#B9A50A"/>
<polygon points="639.9,214.6 827.4,160.3 828.6,190.1 641.1,244.4" fill="#DFC50F"/>
<polygon points="637.5,211.2 639.9,214.6 641.1,244.4 638.7,241.1" fill="#E9D018"/>
<polygon points="637.5,211.2 825,157 827.4,160.3 639.9,214.6" fill="#F7E22C"/>
<polyline points="640.9,244 639.7,214.2 827.2,160" fill="none" stroke="#3F3A00" stroke-width="0.6"/>
<polyline points="641.1,244.4 639.9,214.6" fill="none" stroke="#8E8200" stroke-width="0.4"/>
<polygon points="647.4,225.8 836.1,169.6 837.4,199.8 648.6,256.1" fill="#DFC50F"/>
<polygon points="645,222.5 647.4,225.8 648.6,256.1 646.2,252.8" fill="#E9D018"/>
<polygon points="645,222.5 833.8,166.2 836.1,169.6 647.4,225.8" fill="#F7E22C"/>
<polyline points="648.4,255.7 647.2,225.5 835.9,169.2" fill="none" stroke="#3F3A00" stroke-width="0.6"/>
<polyline points="648.6,256.1 647.4,225.8" fill="none" stroke="#8E8200" stroke-width="0.4"/>
<polygon points="656.1,237.1 846.1,180.8 847.4,211.5 657.4,267.8" fill="#DFC50F"/>
<polygon points="653.8,233.8 656.1,237.1 657.4,267.8 655,264.4" fill="#E9D018"/>
<polygon points="653.8,233.8 843.8,177.5 846.1,180.8 656.1,237.1" fill="#F7E22C"/>
<polyline points="657.1,267.4 655.9,236.7 845.9,180.5" fill="none" stroke="#3F3A00" stroke-width="0.6"/>
<polyline points="657.4,267.8 656.1,237.1" fill="none" stroke="#8E8200" stroke-width="0.4"/>
<polygon points="664.9,248.3 856.1,190.8 857.4,222 666.1,279.4" fill="#DFC50F"/>
<polygon points="662.5,245 664.9,248.3 666.1,279.4 663.7,276.1" fill="#E9D018"/>
<polygon points="662.5,245 853.8,187.5 856.1,190.8 664.9,248.3" fill="#F7E22C"/>
<polyline points="665.9,279.1 664.7,248 855.9,190.5" fill="none" stroke="#3F3A00" stroke-width="0.6"/>
<polyline points="666.1,279.4 664.9,248.3" fill="none" stroke="#8E8200" stroke-width="0.4"/>
<polygon points="673.6,260.3 866.1,202.1 867.4,233.7 674.9,291.9" fill="#DFC50F"/>
<polygon points="671.2,257 673.6,260.3 674.9,291.9 672.5,288.6" fill="#E9D018"/>
<polygon points="671.2,257 863.8,198.8 866.1,202.1 673.6,260.3" fill="#F7E22C"/>
<polyline points="674.6,291.6 673.4,260 865.9,201.7" fill="none" stroke="#3F3A00" stroke-width="0.6"/>
<polyline points="674.9,291.9 673.6,260.3" fill="none" stroke="#8E8200" stroke-width="0.4"/>
<polygon points="683.6,274.6 877.4,214.6 878.6,246.6 684.9,306.6" fill="#DFC50F"/>
<polygon points="681.2,271.2 683.6,274.6 684.9,306.6 682.5,303.3" fill="#E9D018"/>
<polygon points="681.2,271.2 875,211.2 877.4,214.6 683.6,274.6" fill="#F7E22C"/>
<polyline points="684.6,306.3 683.4,274.2 877.2,214.2" fill="none" stroke="#3F3A00" stroke-width="0.6"/>
<polyline points="684.9,306.6 683.6,274.6" fill="none" stroke="#8E8200" stroke-width="0.4"/>
<polygon points="693.6,288.3 888.6,227.1 889.9,259.6 694.9,320.8" fill="#DFC50F"/>
<polygon points="691.2,285 693.6,288.3 694.9,320.8 692.5,317.5" fill="#E9D018"/>
<polygon points="691.2,285 886.2,223.8 888.6,227.1 693.6,288.3" fill="#F7E22C"/>
<polyline points="694.6,320.5 693.4,288 888.4,226.7" fill="none" stroke="#3F3A00" stroke-width="0.6"/>
<polyline points="694.9,320.8 693.6,288.3" fill="none" stroke="#8E8200" stroke-width="0.4"/>
<polygon points="703.6,302.1 899.9,239.6 901.1,272.5 704.9,335" fill="#DFC50F"/>
<polygon points="701.2,298.8 703.6,302.1 704.9,335 702.5,331.7" fill="#E9D018"/>
<polygon points="701.2,298.8 897.5,236.2 899.9,239.6 703.6,302.1" fill="#F7E22C"/>
<polyline points="704.6,334.7 703.4,301.7 899.7,239.2" fill="none" stroke="#3F3A00" stroke-width="0.6"/>
<polyline points="704.9,335 703.6,302.1" fill="none" stroke="#8E8200" stroke-width="0.4"/>
<polygon points="714.9,317.1 911.1,253.3 912.4,286.7 716.1,350.4" fill="#DFC50F"/>
<polygon points="712.5,313.8 714.9,317.1 716.1,350.4 713.7,347.1" fill="#E9D018"/>
<polygon points="712.5,313.8 908.8,250 911.1,253.3 714.9,317.1" fill="#F7E22C"/>
<polyline points="715.9,350.1 714.7,316.7 910.9,253" fill="none" stroke="#3F3A00" stroke-width="0.6"/>
<polyline points="716.1,350.4 714.9,317.1" fill="none" stroke="#8E8200" stroke-width="0.4"/>
<polygon points="658.6,362.3 663.8,372.9 664.6,406.7 658.6,399.2" fill="#D9D182"/>
<polygon points="663.8,372.9 682.6,399.2 682.6,421 664.6,406.7" fill="#7D7738"/>
<polygon points="663.8,372.9 677.4,367.6 673.6,360.1 702.2,350.3 702.9,384.9 682.6,396.2 682.6,399.2" fill="#D9D182"/>
<polygon points="658.6,362.3 672.1,360.1 677.4,367.3 663.8,372.9" fill="#D9D182"/>
<polygon points="672.4,360.7 676.9,367 673,368.5" fill="#7D7738"/>
<polygon points="682.6,396.9 700.7,395.7 701.4,412.7 682.6,421" fill="#D9D182"/>
<polygon points="700.7,395.7 712,410.5 701.4,412.7" fill="#7D7738"/>
<polyline points="658.6,362.3 672.1,360.1 677.4,367.3 663.8,372.9 658.6,362.3" fill="none" stroke="#F3EEC8" stroke-width="0.7"/>
<polyline points="673.6,360.1 702.2,350.3" fill="none" stroke="#F3EEC8" stroke-width="0.7"/>
<polyline points="663.8,372.9 682.6,399.2" fill="none" stroke="#F3EEC8" stroke-width="0.7"/>
<polygon points="798.8,363.8 989.5,297.8 987.5,336.2 942.5,338.8 870,376.2 798.8,400" fill="#D9D182"/>
<polyline points="798.8,363.8 989.5,297.8" fill="none" stroke="#F3EEC8" stroke-width="0.8"/>
<polygon points="830,345.5 888.8,325 893.8,328.8 835,350" fill="#FAF1BC"/>
<polygon points="830,345.5 835,350 830.5,351.8" fill="#7D7738"/>
<polygon points="729.2,387.1 743.5,383.4 743.5,399.9 741.3,400.4" fill="#D9D182"/>
<polygon points="729.2,387.1 741.3,400.4 729.2,404.7" fill="#7D7738"/>
<polygon points="743.5,383.4 766.1,412 754.8,416.5 753.3,398.4 743.5,399.9" fill="#7D7738"/>
<polygon points="743.5,383.4 798.4,363.8 798.4,400.7 766.1,412" fill="#ECEAD2"/>
<polygon points="743.5,383.4 798.4,363.8 798.4,400.7 766.1,412" fill="url(#gl)" opacity="0.7"/>
<polygon points="743.5,383.4 798.4,363.8 798.4,400.7 766.1,412" fill="none" stroke="#8FA3D0" stroke-width="0.5" opacity="0.8"/>
<polyline points="773.2,372.9 774.1,409.2" fill="none" stroke="#4F6BB0" stroke-width="0.8"/>
<polyline points="729.2,387.1 743.5,383.4 766.1,412" fill="none" stroke="#F3EEC8" stroke-width="0.7"/>
<path d="M673.8,423 L750,402 L750.5,447.5 L710,466.2 C695,473.8 670,477.5 652.5,471.2 C642.5,466.2 638,460 637.5,452.5 C638.8,440 652.5,426.2 673.8,423 Z" fill="#D9D182"/>
<polygon points="660,443.8 728.8,445 728.8,453.8 692.5,471.2 673.8,465" fill="#CFC777"/>
<polygon points="640,455 660,443.8 673.8,465 692.5,471.2 670,477.5 647.5,470" fill="#FAF1BC"/>
<polyline points="673.8,465 728.8,446.2" fill="none" stroke="#F3EEC8" stroke-width="0.7"/>
<path d="M637.5,452.5 L637.5,492.5 C640,505 657.5,512.5 677.5,511.2 L710,505 L710,466.2 C695,473.8 670,477.5 652.5,471.2 C642.5,466.2 638,460 637.5,452.5 Z" fill="url(#curv)"/>
<path d="M637.5,452.5 C638.8,440 652.5,426.2 673.8,423 L678.8,426.2 C657.5,430 643.8,442.5 642.5,455 Z" fill="#E9E2A6"/>
<polygon points="751.1,418 764.6,414.2 783.4,439.8 769.1,442.8 751.1,449.5" fill="#7D7738"/>
<polygon points="752.6,418.7 764.3,415.4 764.7,427.7" fill="#D9D182"/>
<polyline points="751.1,418 764.6,414.2 783.4,439.8" fill="none" stroke="#F3EEC8" stroke-width="0.7"/>
<polyline points="751.1,418 769.1,442.8" fill="none" stroke="#F3EEC8" stroke-width="0.7"/>
<polygon points="710.6,466.1 762.3,541.3 762.3,580.1 710.6,504.1" fill="#7D7738"/>
<polygon points="734,496.8 783.4,479.8 814.9,521.9 762.3,541.3" fill="#EDE6B5"/>
<polygon points="710.6,466.1 783.4,440.2 783.4,479.8 734,496.8" fill="#D9D182"/>
<polygon points="783.4,440.2 839.1,513.8 814.9,521.9 783.4,479.8" fill="#7D7738"/>
<polygon points="762.3,541.3 839.1,513.8 839.1,552.6 762.3,580.1" fill="#D9D182"/>
<polyline points="710.6,466.1 783.4,440.2 839.1,513.8 762.3,541.3 710.6,466.1" fill="none" stroke="#F3EEC8" stroke-width="0.8"/>
<polyline points="762.3,541.3 762.3,580.1" fill="none" stroke="#F3EEC8" stroke-width="0.6"/>
<polygon points="620,535.6 733.2,500.9 733.2,531.6 633,567" fill="url(#gl)" opacity="0.75"/>
<polygon points="620,535.6 733.2,500.9 733.2,531.6 633,567" fill="none" stroke="#8FA3D0" stroke-width="0.5" opacity="0.8"/>
<polygon points="633,567 733.2,531.6 733.2,536 636,572" fill="#D9D182"/>
<polygon points="819,388 831.4,406 832.5,438.8 819.5,425.3" fill="#7D7738"/>
<polygon points="831.4,406 842.6,411.8 842.8,444.4 832.5,438.8" fill="#9A934B"/>
<polygon points="842.6,411.8 871,401 872,435 842.8,444.4" fill="#D9D182"/>
<polygon points="871,401 871.9,390.4 872.8,425 872,435" fill="#C9C172"/>
<polygon points="819,388 830.3,379 852.8,372.4 864,375.8 871.9,390.4 871,401 842.6,411.8 831.4,406" fill="#F1EAB4"/>
<polygon points="872,376.6 927.3,354.9 932,355.3 945.3,356 890.6,374" fill="#FFFFFF"/>
<polygon points="929.3,352.6 939.9,348.6 953.3,349.3 965.3,357.3 970.6,366.6 967.9,373.3 954.6,382.6 941.9,368 945.3,365.3 945.3,356 932,355.3" fill="#FAF1BC"/>
<path d="M925.3,340 C934.6,336 950.6,335.3 961.3,342 C970.6,348 975.9,356 974.9,362.6 L970.9,366.9 C969.3,360 962.6,352.6 953.3,349.3 C945.3,346.6 935.9,348.6 929.3,352.6 Z" fill="url(#cresc)"/>
<polygon points="892,408.6 941.9,368 967.9,373.3 965.3,380.2 904,433.5" fill="#F3ECB8"/>
<polyline points="897.5,407.1 908,424.6" fill="none" stroke="#5E5822" stroke-width="1.3"/>
<polyline points="901.9,403.5 912.4,420.6" fill="none" stroke="#5E5822" stroke-width="1.3"/>
<polyline points="906.2,399.9 916.8,416.5" fill="none" stroke="#5E5822" stroke-width="1.3"/>
<polyline points="910.6,396.3 921.2,412.5" fill="none" stroke="#5E5822" stroke-width="1.3"/>
<polyline points="914.9,392.7 925.6,408.4" fill="none" stroke="#5E5822" stroke-width="1.3"/>
<polyline points="919.3,389.2 930,404.4" fill="none" stroke="#5E5822" stroke-width="1.3"/>
<polyline points="923.6,385.6 934.4,400.4" fill="none" stroke="#5E5822" stroke-width="1.3"/>
<polyline points="928,382 938.8,396.3" fill="none" stroke="#5E5822" stroke-width="1.3"/>
<polyline points="932.3,378.4 943.2,392.3" fill="none" stroke="#5E5822" stroke-width="1.3"/>
<polyline points="936.7,374.8 947.6,388.2" fill="none" stroke="#5E5822" stroke-width="1.3"/>
<polyline points="941,371.2 952,384.2" fill="none" stroke="#5E5822" stroke-width="1.3"/>
<polygon points="890.6,374 945.3,356 945.3,365.3 892,408.6 891.3,410.6" fill="#D9D182"/>
<polyline points="890.6,374 945.3,356" fill="none" stroke="#F3EEC8" stroke-width="0.7"/>
<polygon points="872,376.6 890.6,374.9 890.6,382.6 881.3,380.6" fill="#CFC777"/>
<polygon points="880,390 890.4,392 890.6,401.9 886.6,397.9" fill="#A8A155"/>
<path d="M971.3,350.9 C974.6,355.3 975.9,360 975.7,365.3 L975.4,373.3 C974.6,380 970.6,385.3 966.6,389.3 L910,451.9 L910,441.5 L904,433.3 L965.3,380 C970.6,374.6 973.9,369.3 974.9,362.6 C975.1,358.6 973.3,354 971.3,350.9 Z" fill="url(#outerg)"/>
<polyline points="904,433.3 965.3,380" fill="none" stroke="#F3EEC8" stroke-width="0.7"/>
<polygon points="901.3,435.9 904,433.3 910,441.5 910,451.9 901.3,446.6" fill="#A8A155"/>
<polygon points="910.6,441.3 1047.9,392 1049.2,405.3 910,451.9" fill="#D9D182"/>
<polyline points="910.6,441.3 1047.9,392" fill="none" stroke="#F3EEC8" stroke-width="0.7"/>
<polygon points="631,570 680,648 682,680 633,607" fill="#7D7738"/>
<polygon points="680,648 781,819 781,855 682,680" fill="#EFEBC4"/>
<polygon points="680,648 781,819 781,855 682,680" fill="url(#gly)" opacity="0.7"/>
<polygon points="680,648 781,819 781,855 682,680" fill="none" stroke="#8FA3D0" stroke-width="0.5" opacity="0.8"/>
<polyline points="631,570 680,648" fill="none" stroke="#FBF8DC" stroke-width="0.9"/>
<polyline points="781,819 884,995" fill="none" stroke="#FBF8DC" stroke-width="0.9"/>
<polygon points="781,819 884,995 883,1033 781,855" fill="#7D7738"/>
<polygon points="897,995 1067,913 1065,940 896,1026" fill="#F3F0D2"/>
<polygon points="897,995 1067,913 1065,940 896,1026" fill="url(#gly)" opacity="0.8"/>
<polygon points="897,995 1067,913 1065,940 896,1026" fill="none" stroke="#8FA3D0" stroke-width="0.5" opacity="0.8"/>
<polygon points="1085,902.5 1247.5,825 1240,856 1077,938" fill="#F3F0D2"/>
<polygon points="1085,902.5 1247.5,825 1240,856 1077,938" fill="url(#gly)" opacity="0.8"/>
<polygon points="1085,902.5 1247.5,825 1240,856 1077,938" fill="none" stroke="#8FA3D0" stroke-width="0.5" opacity="0.8"/>
<polygon points="1258,828 1274,842 1262,874 1248,858" fill="url(#gly)" opacity="0.7"/>
<polygon points="1258,828 1274,842 1262,874 1248,858" fill="none" stroke="#8FA3D0" stroke-width="0.5" opacity="0.8"/>
<polygon points="1264,846 1276,852 1270,866 1262,860" fill="#8A8440"/>
<polygon points="1266,840 1550,704 1568,714 1277,854" fill="#FAF1BC"/>
<polygon points="1277,854 1568,714 1572,724 1274,869" fill="#DDD58A"/>
<polygon points="1566,710 1594,700 1580,716 1572,722" fill="#E7E0A2"/>
<polygon points="1061.4,375.4 1215,322.5 1203,364 1062.5,402.5" fill="#F2F4FA"/>
<polygon points="1061.4,375.4 1215,322.5 1203,364 1062.5,402.5" fill="url(#gl)" opacity="0.9"/>
<polygon points="1061.4,375.4 1215,322.5 1203,364 1062.5,402.5" fill="none" stroke="#8FA3D0" stroke-width="0.5" opacity="0.8"/>
<polygon points="1216,323 1318,419 1311,453 1205,364" fill="#F2F4FA"/>
<polygon points="1216,323 1318,419 1311,453 1205,364" fill="url(#gl)" opacity="0.9"/>
<polygon points="1216,323 1318,419 1311,453 1205,364" fill="none" stroke="#8FA3D0" stroke-width="0.5" opacity="0.8"/>
<polygon points="1318,419 1337.7,415.8 1327,450 1311,453" fill="#F2F4FA"/>
<polygon points="1318,419 1337.7,415.8 1327,450 1311,453" fill="url(#gl)" opacity="0.8"/>
<polygon points="1318,419 1337.7,415.8 1327,450 1311,453" fill="none" stroke="#8FA3D0" stroke-width="0.5" opacity="0.8"/>
<polygon points="1049.7,368 1060.4,377.6 1060.4,400 1050.8,391.4" fill="#EEF1F8"/>
<polygon points="1049.7,368 1060.4,377.6 1060.4,400 1050.8,391.4" fill="url(#gl)" opacity="0.8"/>
<polygon points="1049.7,368 1060.4,377.6 1060.4,400 1050.8,391.4" fill="none" stroke="#8FA3D0" stroke-width="0.5" opacity="0.8"/>
<polygon points="1047,392 1057,389 1058,408 1049,405" fill="#8A8440"/>
<polygon points="1049,367 1050.5,366.5 1051.5,391 1050,391" fill="#B5AE5E"/>
<polygon points="1324,459 1328,451.6 1556.9,668.8 1549.4,682.5" fill="#7D7738"/>
<polygon points="1328,451.6 1338.4,446.5 1567.5,664.4 1556.9,668.8" fill="#FAF1BC"/>
<polygon points="1556.9,668.8 1567.5,664.4 1561,677 1549.4,682.5" fill="#EFE8A6"/>
<path d="M1070.5,372 L1067.5,402 A5.5,3.4 0 0 0 1078.5,402 L1081.5,372 Z" fill="url(#pil)"/>
<ellipse cx="1076" cy="372" rx="5.5" ry="3.4" fill="#F5EDB0"/>
<path d="M1209,322 L1201,364 A6,3.7 0 0 0 1213,364 L1221,322 Z" fill="url(#pil)"/>
<ellipse cx="1215" cy="322" rx="6" ry="3.7" fill="#F5EDB0"/>
<path d="M1314,420 L1306,462 A6,3.7 0 0 0 1318,462 L1326,420 Z" fill="url(#pil)"/>
<ellipse cx="1320" cy="420" rx="6" ry="3.7" fill="#F5EDB0"/>
<polygon points="965,449.5 1095.5,400 1095,430.5 964.5,480" fill="#DFC50F"/>
<polygon points="959,446 965,449.5 964.5,480 958.5,476.5" fill="#E9D018"/>
<polygon points="959,446 1089.5,396.5 1095.5,400 965,449.5" fill="#F7E22C"/>
<polyline points="961.5,478.2 962,447.8 1092.5,398.2" fill="none" stroke="#3F3A00" stroke-width="0.6"/>
<polyline points="964.5,480 965,449.5" fill="none" stroke="#8E8200" stroke-width="0.4"/>
<polygon points="980,468.5 1113.5,418 1113.1,448.6 979.6,499.1" fill="#DFC50F"/>
<polygon points="974,465 980,468.5 979.6,499.1 973.6,495.6" fill="#E9D018"/>
<polygon points="974,465 1107.5,414.5 1113.5,418 980,468.5" fill="#F7E22C"/>
<polyline points="976.6,497.4 977,466.8 1110.5,416.2" fill="none" stroke="#3F3A00" stroke-width="0.6"/>
<polyline points="979.6,499.1 980,468.5" fill="none" stroke="#8E8200" stroke-width="0.4"/>
<polygon points="992,486.5 1128.5,433 1128.2,463.7 991.7,517.2" fill="#DFC50F"/>
<polygon points="986,483 992,486.5 991.7,517.2 985.7,513.7" fill="#E9D018"/>
<polygon points="986,483 1122.5,429.5 1128.5,433 992,486.5" fill="#F7E22C"/>
<polyline points="988.7,515.5 989,484.8 1125.5,431.2" fill="none" stroke="#3F3A00" stroke-width="0.6"/>
<polyline points="991.7,517.2 992,486.5" fill="none" stroke="#8E8200" stroke-width="0.4"/>
<polygon points="1008,503 1145.5,451 1145.3,481.9 1007.8,533.9" fill="#DFC50F"/>
<polygon points="1002,499.5 1008,503 1007.8,533.9 1001.8,530.4" fill="#E9D018"/>
<polygon points="1002,499.5 1139.5,447.5 1145.5,451 1008,503" fill="#F7E22C"/>
<polyline points="1004.8,532.1 1005,501.2 1142.5,449.2" fill="none" stroke="#3F3A00" stroke-width="0.6"/>
<polyline points="1007.8,533.9 1008,503" fill="none" stroke="#8E8200" stroke-width="0.4"/>
<polygon points="1023,519 1160.5,466 1160.4,497 1022.9,550" fill="#DFC50F"/>
<polygon points="1017,515.5 1023,519 1022.9,550 1016.9,546.5" fill="#E9D018"/>
<polygon points="1017,515.5 1154.5,462.5 1160.5,466 1023,519" fill="#F7E22C"/>
<polyline points="1019.9,548.2 1020,517.2 1157.5,464.2" fill="none" stroke="#3F3A00" stroke-width="0.6"/>
<polyline points="1022.9,550 1023,519" fill="none" stroke="#8E8200" stroke-width="0.4"/>
<polygon points="1037,534 1163.5,486 1163.5,517.1 1037,565.1" fill="#DFC50F"/>
<polygon points="1031,530.5 1037,534 1037,565.1 1031,561.6" fill="#E9D018"/>
<polygon points="1031,530.5 1157.5,482.5 1163.5,486 1037,534" fill="#F7E22C"/>
<polyline points="1034,563.4 1034,532.2 1160.5,484.2" fill="none" stroke="#3F3A00" stroke-width="0.6"/>
<polyline points="1037,565.1 1037,534" fill="none" stroke="#8E8200" stroke-width="0.4"/>
<polygon points="1051,550 1188.5,497 1188.6,528.2 1051.1,581.2" fill="#DFC50F"/>
<polygon points="1045,546.5 1051,550 1051.1,581.2 1045.1,577.7" fill="#E9D018"/>
<polygon points="1045,546.5 1182.5,493.5 1188.5,497 1051,550" fill="#F7E22C"/>
<polyline points="1048.1,579.5 1048,548.2 1185.5,495.2" fill="none" stroke="#3F3A00" stroke-width="0.6"/>
<polyline points="1051.1,581.2 1051,550" fill="none" stroke="#8E8200" stroke-width="0.4"/>
<polygon points="1066,567.5 1204.5,515 1204.7,546.3 1066.2,598.8" fill="#DFC50F"/>
<polygon points="1060,564 1066,567.5 1066.2,598.8 1060.2,595.3" fill="#E9D018"/>
<polygon points="1060,564 1198.5,511.5 1204.5,515 1066,567.5" fill="#F7E22C"/>
<polyline points="1063.2,597.1 1063,565.8 1201.5,513.2" fill="none" stroke="#3F3A00" stroke-width="0.6"/>
<polyline points="1066.2,598.8 1066,567.5" fill="none" stroke="#8E8200" stroke-width="0.4"/>
<polygon points="1082,585.5 1220.5,531 1220.8,562.5 1082.3,617" fill="#DFC50F"/>
<polygon points="1076,582 1082,585.5 1082.3,617 1076.3,613.5" fill="#E9D018"/>
<polygon points="1076,582 1214.5,527.5 1220.5,531 1082,585.5" fill="#F7E22C"/>
<polyline points="1079.3,615.2 1079,583.8 1217.5,529.2" fill="none" stroke="#3F3A00" stroke-width="0.6"/>
<polyline points="1082.3,617 1082,585.5" fill="none" stroke="#8E8200" stroke-width="0.4"/>
<polygon points="1097,603.5 1235.5,548 1235.9,579.6 1097.4,635.1" fill="#DFC50F"/>
<polygon points="1091,600 1097,603.5 1097.4,635.1 1091.4,631.6" fill="#E9D018"/>
<polygon points="1091,600 1229.5,544.5 1235.5,548 1097,603.5" fill="#F7E22C"/>
<polyline points="1094.4,633.3 1094,601.8 1232.5,546.2" fill="none" stroke="#3F3A00" stroke-width="0.6"/>
<polyline points="1097.4,635.1 1097,603.5" fill="none" stroke="#8E8200" stroke-width="0.4"/>
<polygon points="1111,619.5 1250.5,565 1251,596.7 1111.5,651.2" fill="#DFC50F"/>
<polygon points="1105,616 1111,619.5 1111.5,651.2 1105.5,647.7" fill="#E9D018"/>
<polygon points="1105,616 1244.5,561.5 1250.5,565 1111,619.5" fill="#F7E22C"/>
<polyline points="1108.5,649.5 1108,617.8 1247.5,563.2" fill="none" stroke="#3F3A00" stroke-width="0.6"/>
<polyline points="1111.5,651.2 1111,619.5" fill="none" stroke="#8E8200" stroke-width="0.4"/>
<polygon points="1126,639.5 1255.5,586 1256.1,617.8 1126.6,671.3" fill="#DFC50F"/>
<polygon points="1120,636 1126,639.5 1126.6,671.3 1120.6,667.8" fill="#E9D018"/>
<polygon points="1120,636 1249.5,582.5 1255.5,586 1126,639.5" fill="#F7E22C"/>
<polyline points="1123.6,669.6 1123,637.8 1252.5,584.2" fill="none" stroke="#3F3A00" stroke-width="0.6"/>
<polyline points="1126.6,671.3 1126,639.5" fill="none" stroke="#8E8200" stroke-width="0.4"/>
<polygon points="1171,451 1271,411.5 1266.5,442 1166.5,481.5" fill="#DFC50F"/>
<polygon points="1165,447.5 1171,451 1166.5,481.5 1160.5,478" fill="#E9D018"/>
<polygon points="1165,447.5 1265,408 1271,411.5 1171,451" fill="#F7E22C"/>
<polyline points="1163.5,479.8 1168,449.2 1268,409.8" fill="none" stroke="#3F3A00" stroke-width="0.6"/>
<polyline points="1166.5,481.5 1171,451" fill="none" stroke="#8E8200" stroke-width="0.4"/>
<polygon points="1191,469.5 1291,430 1286.5,460.5 1186.5,500" fill="#DFC50F"/>
<polygon points="1185,466 1191,469.5 1186.5,500 1180.5,496.5" fill="#E9D018"/>
<polygon points="1185,466 1285,426.5 1291,430 1191,469.5" fill="#F7E22C"/>
<polyline points="1183.5,498.2 1188,467.8 1288,428.2" fill="none" stroke="#3F3A00" stroke-width="0.6"/>
<polyline points="1186.5,500 1191,469.5" fill="none" stroke="#8E8200" stroke-width="0.4"/>
<polygon points="1208.5,489.5 1309.5,448 1305,478.5 1204,520" fill="#DFC50F"/>
<polygon points="1202.5,486 1208.5,489.5 1204,520 1198,516.5" fill="#E9D018"/>
<polygon points="1202.5,486 1303.5,444.5 1309.5,448 1208.5,489.5" fill="#F7E22C"/>
<polyline points="1201,518.2 1205.5,487.8 1306.5,446.2" fill="none" stroke="#3F3A00" stroke-width="0.6"/>
<polyline points="1204,520 1208.5,489.5" fill="none" stroke="#8E8200" stroke-width="0.4"/>
<polygon points="1230,509.5 1331.5,469 1327,499.5 1225.5,540" fill="#DFC50F"/>
<polygon points="1224,506 1230,509.5 1225.5,540 1219.5,536.5" fill="#E9D018"/>
<polygon points="1224,506 1325.5,465.5 1331.5,469 1230,509.5" fill="#F7E22C"/>
<polyline points="1222.5,538.2 1227,507.8 1328.5,467.2" fill="none" stroke="#3F3A00" stroke-width="0.6"/>
<polyline points="1225.5,540 1230,509.5" fill="none" stroke="#8E8200" stroke-width="0.4"/>
<polygon points="1248,530.5 1352.5,489 1348,519.5 1243.5,561" fill="#DFC50F"/>
<polygon points="1242,527 1248,530.5 1243.5,561 1237.5,557.5" fill="#E9D018"/>
<polygon points="1242,527 1346.5,485.5 1352.5,489 1248,530.5" fill="#F7E22C"/>
<polyline points="1240.5,559.2 1245,528.8 1349.5,487.2" fill="none" stroke="#3F3A00" stroke-width="0.6"/>
<polyline points="1243.5,561 1248,530.5" fill="none" stroke="#8E8200" stroke-width="0.4"/>
<polygon points="1270,552.5 1374.5,510 1370,540.5 1265.5,583" fill="#DFC50F"/>
<polygon points="1264,549 1270,552.5 1265.5,583 1259.5,579.5" fill="#E9D018"/>
<polygon points="1264,549 1368.5,506.5 1374.5,510 1270,552.5" fill="#F7E22C"/>
<polyline points="1262.5,581.2 1267,550.8 1371.5,508.2" fill="none" stroke="#3F3A00" stroke-width="0.6"/>
<polyline points="1265.5,583 1270,552.5" fill="none" stroke="#8E8200" stroke-width="0.4"/>
<polygon points="1290,570.5 1392.5,528 1388,558.5 1285.5,601" fill="#DFC50F"/>
<polygon points="1284,567 1290,570.5 1285.5,601 1279.5,597.5" fill="#E9D018"/>
<polygon points="1284,567 1386.5,524.5 1392.5,528 1290,570.5" fill="#F7E22C"/>
<polyline points="1282.5,599.2 1287,568.8 1389.5,526.2" fill="none" stroke="#3F3A00" stroke-width="0.6"/>
<polyline points="1285.5,601 1290,570.5" fill="none" stroke="#8E8200" stroke-width="0.4"/>
<path d="M1434,536 L1418,575 A6,3.7 0 0 0 1430,575 L1446,536 Z" fill="url(#pil)"/>
<ellipse cx="1440" cy="536" rx="6" ry="3.7" fill="#F5EDB0"/>
<polygon points="1027,545 1111,645 1101,679 1017,579" fill="#AFA106"/>
<polygon points="1027,545 1033,542 1117,642 1111,645" fill="#F7E22C"/>
<polygon points="1111,645 1117,642 1107,676 1101,679" fill="#E9D018"/>
<polyline points="1030,543.5 1114,643.5 1104,677.5" fill="none" stroke="#3F3A00" stroke-width="0.6"/>
<polygon points="997,557 1094,675 1084,705 987,587" fill="#AFA106"/>
<polygon points="997,557 1003,554 1100,672 1094,675" fill="#F7E22C"/>
<polygon points="1094,675 1100,672 1090,702 1084,705" fill="#E9D018"/>
<polyline points="1000,555.5 1097,673.5 1087,703.5" fill="none" stroke="#3F3A00" stroke-width="0.6"/>
<polygon points="970,567 1065,687 1055.5,716.5 960.5,596.5" fill="#AFA106"/>
<polygon points="970,567 976,564 1071,684 1065,687" fill="#F7E22C"/>
<polygon points="1065,687 1071,684 1061.5,713.5 1055.5,716.5" fill="#E9D018"/>
<polyline points="973,565.5 1068,685.5 1058.5,715" fill="none" stroke="#3F3A00" stroke-width="0.6"/>
<polygon points="941,580 1036,701 1027,730 932,609" fill="#AFA106"/>
<polygon points="941,580 947,577 1042,698 1036,701" fill="#F7E22C"/>
<polygon points="1036,701 1042,698 1033,727 1027,730" fill="#E9D018"/>
<polyline points="944,578.5 1039,699.5 1030,728.5" fill="none" stroke="#3F3A00" stroke-width="0.6"/>
<polygon points="887.5,601 979,724 974.5,752.5 883,629.5" fill="#AFA106"/>
<polygon points="887.5,601 893.5,598 985,721 979,724" fill="#F7E22C"/>
<polygon points="979,724 985,721 980.5,749.5 974.5,752.5" fill="#E9D018"/>
<polyline points="890.5,599.5 982,722.5 977.5,751" fill="none" stroke="#3F3A00" stroke-width="0.6"/>
<polygon points="865,611 946,722.5 942,752 861,640.5" fill="#AFA106"/>
<polygon points="865,611 871,608 952,719.5 946,722.5" fill="#F7E22C"/>
<polygon points="946,722.5 952,719.5 948,749 942,752" fill="#E9D018"/>
<polyline points="868,609.5 949,721 945,750.5" fill="none" stroke="#3F3A00" stroke-width="0.6"/>
<polygon points="728,664.5 849.5,617.5 849,646.5 727.5,693.5" fill="#DFC50F"/>
<polygon points="722.5,661 728,664.5 727.5,693.5 722,690" fill="#E9D018"/>
<polygon points="722.5,661 844,614 849.5,617.5 728,664.5" fill="#F7E22C"/>
<polyline points="724.8,691.8 725.2,662.8 846.8,615.8" fill="none" stroke="#3F3A00" stroke-width="0.6"/>
<polyline points="727.5,693.5 728,664.5" fill="none" stroke="#8E8200" stroke-width="0.4"/>
<polygon points="741.5,684.5 863,637.5 862.5,667 741,714" fill="#DFC50F"/>
<polygon points="736,681 741.5,684.5 741,714 735.5,710.5" fill="#E9D018"/>
<polygon points="736,681 857.5,634 863,637.5 741.5,684.5" fill="#F7E22C"/>
<polyline points="738.2,712.2 738.8,682.8 860.2,635.8" fill="none" stroke="#3F3A00" stroke-width="0.6"/>
<polyline points="741,714 741.5,684.5" fill="none" stroke="#8E8200" stroke-width="0.4"/>
<polygon points="755.5,704.5 876.5,656 876,686 755,734.5" fill="#DFC50F"/>
<polygon points="750,701 755.5,704.5 755,734.5 749.5,731" fill="#E9D018"/>
<polygon points="750,701 871,652.5 876.5,656 755.5,704.5" fill="#F7E22C"/>
<polyline points="752.2,732.8 752.8,702.8 873.8,654.2" fill="none" stroke="#3F3A00" stroke-width="0.6"/>
<polyline points="755,734.5 755.5,704.5" fill="none" stroke="#8E8200" stroke-width="0.4"/>
<polygon points="800.5,708.5 890.5,672.5 890,703 800,739" fill="#DFC50F"/>
<polygon points="795,705 800.5,708.5 800,739 794.5,735.5" fill="#E9D018"/>
<polygon points="795,705 885,669 890.5,672.5 800.5,708.5" fill="#F7E22C"/>
<polyline points="797.2,737.2 797.8,706.8 887.8,670.8" fill="none" stroke="#3F3A00" stroke-width="0.6"/>
<polyline points="800,739 800.5,708.5" fill="none" stroke="#8E8200" stroke-width="0.4"/>
<polygon points="1364,592 1471,696 1457,726 1350,622" fill="#AFA106"/>
<polygon points="1364,592 1371,589 1478,693 1471,696" fill="#F7E22C"/>
<polygon points="1471,696 1478,693 1464,723 1457,726" fill="#E9D018"/>
<polyline points="1367.5,590.5 1474.5,694.5 1460.5,724.5" fill="none" stroke="#3F3A00" stroke-width="0.6"/>
<polygon points="1336,604 1444,710 1430,740 1322,634" fill="#AFA106"/>
<polygon points="1336,604 1343,601 1451,707 1444,710" fill="#F7E22C"/>
<polygon points="1444,710 1451,707 1437,737 1430,740" fill="#E9D018"/>
<polyline points="1339.5,602.5 1447.5,708.5 1433.5,738.5" fill="none" stroke="#3F3A00" stroke-width="0.6"/>
<polygon points="1309,616 1420,721 1406,751 1295,646" fill="#AFA106"/>
<polygon points="1309,616 1316,613 1427,718 1420,721" fill="#F7E22C"/>
<polygon points="1420,721 1427,718 1413,748 1406,751" fill="#E9D018"/>
<polyline points="1312.5,614.5 1423.5,719.5 1409.5,749.5" fill="none" stroke="#3F3A00" stroke-width="0.6"/>
<polygon points="1278,628 1386,739 1372,769 1264,658" fill="#AFA106"/>
<polygon points="1278,628 1285,625 1393,736 1386,739" fill="#F7E22C"/>
<polygon points="1386,739 1393,736 1379,766 1372,769" fill="#E9D018"/>
<polyline points="1281.5,626.5 1389.5,737.5 1375.5,767.5" fill="none" stroke="#3F3A00" stroke-width="0.6"/>
<polygon points="1248,641 1357,752 1343,782 1234,671" fill="#AFA106"/>
<polygon points="1248,641 1255,638 1364,749 1357,752" fill="#F7E22C"/>
<polygon points="1357,752 1364,749 1350,779 1343,782" fill="#E9D018"/>
<polyline points="1251.5,639.5 1360.5,750.5 1346.5,780.5" fill="none" stroke="#3F3A00" stroke-width="0.6"/>
<polygon points="1220,653 1327,766 1313,796 1206,683" fill="#AFA106"/>
<polygon points="1220,653 1227,650 1334,763 1327,766" fill="#F7E22C"/>
<polygon points="1327,766 1334,763 1320,793 1313,796" fill="#E9D018"/>
<polyline points="1223.5,651.5 1330.5,764.5 1316.5,794.5" fill="none" stroke="#3F3A00" stroke-width="0.6"/>
<polygon points="1192,665 1301,780 1287,810 1178,695" fill="#AFA106"/>
<polygon points="1192,665 1199,662 1308,777 1301,780" fill="#F7E22C"/>
<polygon points="1301,780 1308,777 1294,807 1287,810" fill="#E9D018"/>
<polyline points="1195.5,663.5 1304.5,778.5 1290.5,808.5" fill="none" stroke="#3F3A00" stroke-width="0.6"/>
<polygon points="1165,677 1257,779 1243,809 1151,707" fill="#AFA106"/>
<polygon points="1165,677 1172,674 1264,776 1257,779" fill="#F7E22C"/>
<polygon points="1257,779 1264,776 1250,806 1243,809" fill="#E9D018"/>
<polyline points="1168.5,675.5 1260.5,777.5 1246.5,807.5" fill="none" stroke="#3F3A00" stroke-width="0.6"/>
<polygon points="1136,690 1227,794 1213,824 1122,720" fill="#AFA106"/>
<polygon points="1136,690 1143,687 1234,791 1227,794" fill="#F7E22C"/>
<polygon points="1227,794 1234,791 1220,821 1213,824" fill="#E9D018"/>
<polyline points="1139.5,688.5 1230.5,792.5 1216.5,822.5" fill="none" stroke="#3F3A00" stroke-width="0.6"/>
<polygon points="1106,702 1197,805 1183,835 1092,732" fill="#AFA106"/>
<polygon points="1106,702 1113,699 1204,802 1197,805" fill="#F7E22C"/>
<polygon points="1197,805 1204,802 1190,832 1183,835" fill="#E9D018"/>
<polyline points="1109.5,700.5 1200.5,803.5 1186.5,833.5" fill="none" stroke="#3F3A00" stroke-width="0.6"/>
<polygon points="1080,716 1163,821 1149,851 1066,746" fill="#AFA106"/>
<polygon points="1080,716 1087,713 1170,818 1163,821" fill="#F7E22C"/>
<polygon points="1163,821 1170,818 1156,848 1149,851" fill="#E9D018"/>
<polyline points="1083.5,714.5 1166.5,819.5 1152.5,849.5" fill="none" stroke="#3F3A00" stroke-width="0.6"/>
<polygon points="997.5,747.5 1080,859 1072.5,886 990,774.5" fill="#AFA106"/>
<polygon points="997.5,747.5 1003.5,744.5 1086,856 1080,859" fill="#F7E22C"/>
<polygon points="1080,859 1086,856 1078.5,883 1072.5,886" fill="#E9D018"/>
<polyline points="1000.5,746 1083,857.5 1075.5,884.5" fill="none" stroke="#3F3A00" stroke-width="0.6"/>
<polygon points="975,757.5 1057.5,869 1050,895.5 967.5,784" fill="#AFA106"/>
<polygon points="975,757.5 981,754.5 1063.5,866 1057.5,869" fill="#F7E22C"/>
<polygon points="1057.5,869 1063.5,866 1056,892.5 1050,895.5" fill="#E9D018"/>
<polyline points="978,756 1060.5,867.5 1053,894" fill="none" stroke="#3F3A00" stroke-width="0.6"/>
<path d="M1569,666 L1549,700 A7,4.3 0 0 0 1563,700 L1583,666 Z" fill="url(#pil)"/>
<ellipse cx="1576" cy="666" rx="7" ry="4.3" fill="#F5EDB0"/>
<path d="M1417.5,740 L1397.5,774 A6.5,4 0 0 0 1410.5,774 L1430.5,740 Z" fill="url(#pil)"/>
<ellipse cx="1424" cy="740" rx="6.5" ry="4" fill="#F5EDB0"/>
<path d="M1249,821 L1239,859 A7,4.3 0 0 0 1253,859 L1263,821 Z" fill="url(#pil)"/>
<ellipse cx="1256" cy="821" rx="7" ry="4.3" fill="#F5EDB0"/>
<path d="M1070,907 L1063,943 A7,4.3 0 0 0 1077,943 L1084,907 Z" fill="url(#pil)"/>
<ellipse cx="1077" cy="907" rx="7" ry="4.3" fill="#F5EDB0"/>
<path d="M883.5,996 L882,1036 A7,4.3 0 0 0 896,1036 L897.5,996 Z" fill="url(#pil)"/>
<ellipse cx="890.5" cy="996" rx="7" ry="4.3" fill="#F5EDB0"/>
<polyline points="1577,680 1598,703 1566,716" fill="none" stroke="#8A8440" stroke-width="0.5"/>
<polyline points="1577,686 1592,706" fill="none" stroke="#8A8440" stroke-width="0.5"/>
<polygon points="356,50.6 365.3,47.8 431.3,155 434.7,120 445,137.8 441.3,186.6 392.5,156.6 381.3,138.8 422.5,162.2" fill="#A6982F"/>
<text transform="translate(394.2 75.9) rotate(-17.8) scale(0.755 1)" font-family="'Liberation Sans',sans-serif" font-size="32" fill="#A6982F" font-weight="normal" font-style="normal" text-anchor="start">Main entrance</text>
<text transform="translate(410.5 110.1) rotate(-17.8) scale(0.712 1)" font-family="'Liberation Sans',sans-serif" font-size="31" fill="#A6982F" font-weight="normal" font-style="normal" text-anchor="start">(on ground floor)</text>
<text transform="translate(860.5 891.9) rotate(-23.5) scale(0.775 1)" font-family="'Liberation Sans',sans-serif" font-size="45" fill="#6E6428" font-weight="normal" font-style="normal" text-anchor="start">Map</text>
<text transform="translate(888 941.4) rotate(-23.5) scale(0.8 1)" font-family="'Liberation Sans',sans-serif" font-size="45" fill="#6E6428" font-weight="normal" font-style="normal" text-anchor="start">Library</text>
<text transform="translate(352.5 394.9) rotate(65.5) scale(0.7 1)" font-family="'Liberation Sans',sans-serif" font-size="24.5" fill="#6E6428" font-weight="normal" font-style="normal" text-anchor="start">Group Study Rooms</text>
<text transform="translate(570.5 522.4) rotate(-17)" font-family="'Liberation Sans',sans-serif" font-size="18.5" fill="#3A3510" font-weight="normal" font-style="normal" text-anchor="start">Lift</text>
<text transform="translate(833.5 400.4) rotate(-20)" font-family="'Liberation Sans',sans-serif" font-size="18" fill="#3A3510" font-weight="normal" font-style="normal" text-anchor="start">Lift</text>
<polyline points="62.5,82.5 79,114" fill="none" stroke="#EE1C25" stroke-width="0.9"/>
<text transform="translate(34 76.9)" font-family="'Liberation Sans',sans-serif" font-size="12.8" fill="#EE1C25" font-weight="normal" font-style="normal" text-anchor="start">Fire Exit</text>
<polyline points="629,45 657.5,105" fill="none" stroke="#EE1C25" stroke-width="0.9"/>
<text transform="translate(604 38.4)" font-family="'Liberation Sans',sans-serif" font-size="12.8" fill="#EE1C25" font-weight="normal" font-style="normal" text-anchor="start">Fire Exit</text>
<polyline points="1190,292 1169,352" fill="none" stroke="#EE1C25" stroke-width="0.9"/>
<text transform="translate(1167 285.4)" font-family="'Liberation Sans',sans-serif" font-size="12.8" fill="#EE1C25" font-weight="normal" font-style="normal" text-anchor="start">Fire Exit</text>
<polyline points="608,609.5 605,662" fill="none" stroke="#EE1C25" stroke-width="0.9"/>
<text transform="translate(583 676.4)" font-family="'Liberation Sans',sans-serif" font-size="12.8" fill="#EE1C25" font-weight="normal" font-style="normal" text-anchor="start">Fire Exit</text>
<polyline points="755,822 752.5,877" fill="none" stroke="#EE1C25" stroke-width="0.9"/>
<text transform="translate(731 889.4)" font-family="'Liberation Sans',sans-serif" font-size="12.8" fill="#EE1C25" font-weight="normal" font-style="normal" text-anchor="start">Fire Exit</text>
<polyline points="527.5,835 497.5,931" fill="none" stroke="#EE1C25" stroke-width="0.9"/>
<text transform="translate(475 945.4)" font-family="'Liberation Sans',sans-serif" font-size="12.8" fill="#EE1C25" font-weight="normal" font-style="normal" text-anchor="start">Fire Exit</text>
<polyline points="1146,895 1170,946" fill="none" stroke="#EE1C25" stroke-width="0.9"/>
<text transform="translate(1160 962.4)" font-family="'Liberation Sans',sans-serif" font-size="12.8" fill="#EE1C25" font-weight="normal" font-style="normal" text-anchor="start">Fire Exit</text>
<polyline points="347.5,170 392,309" fill="none" stroke="#0A9632" stroke-width="0.9"/>
<circle cx="392" cy="309" r="3.2" fill="#0A9632"/>
<text transform="translate(292 165.9)" font-family="'Liberation Sans',sans-serif" font-size="12.8" fill="#0A9632" font-weight="normal" font-style="normal" text-anchor="start">Exhibition Space</text>
<polyline points="1115,255 1030,414" fill="none" stroke="#0A9632" stroke-width="0.9"/>
<circle cx="1030" cy="414" r="3.2" fill="#0A9632"/>
<text transform="translate(1083 247.4)" font-family="'Liberation Sans',sans-serif" font-size="12.8" fill="#0A9632" font-weight="normal" font-style="normal" text-anchor="start">Bloomberg Terminal</text>
<polyline points="429,372.5 385,382.5" fill="none" stroke="#0A9632" stroke-width="0.9"/>
<circle cx="385" cy="382.5" r="3.2" fill="#0A9632"/>
<text transform="translate(424.5 369.9)" font-family="'Liberation Sans',sans-serif" font-size="12.8" fill="#0A9632" font-weight="normal" font-style="normal" text-anchor="start">1.02</text>
<polyline points="455,421 410.5,431.5" fill="none" stroke="#0A9632" stroke-width="0.9"/>
<circle cx="410.5" cy="431.5" r="3.2" fill="#0A9632"/>
<text transform="translate(451.5 417.9)" font-family="'Liberation Sans',sans-serif" font-size="12.8" fill="#0A9632" font-weight="normal" font-style="normal" text-anchor="start">1.03</text>
<polyline points="480,469.5 435,480" fill="none" stroke="#0A9632" stroke-width="0.9"/>
<circle cx="435" cy="480" r="3.2" fill="#0A9632"/>
<text transform="translate(476 465.9)" font-family="'Liberation Sans',sans-serif" font-size="12.8" fill="#0A9632" font-weight="normal" font-style="normal" text-anchor="start">1.04</text>
<polyline points="506,527 459.5,537" fill="none" stroke="#0A9632" stroke-width="0.9"/>
<circle cx="459.5" cy="537" r="3.2" fill="#0A9632"/>
<text transform="translate(501 522.9)" font-family="'Liberation Sans',sans-serif" font-size="12.8" fill="#0A9632" font-weight="normal" font-style="normal" text-anchor="start">1.05</text>
<text transform="translate(1141 116.9)" font-family="'Liberation Serif',serif" font-size="23" fill="#10AA3C" font-weight="bold" font-style="italic" text-anchor="start">i</text>
<text transform="translate(1152 114.9)" font-family="'Liberation Sans',sans-serif" font-size="13" fill="#0A9632" font-weight="normal" font-style="normal" text-anchor="start">=</text>
<text transform="translate(1166.5 114.9)" font-family="'Liberation Sans',sans-serif" font-size="12.75" fill="#0A9632" font-weight="normal" font-style="normal" text-anchor="start">Information Point Kiosk</text>
<text transform="translate(1137 150.9)" font-family="'Liberation Serif',serif" font-size="23" fill="#10AA3C" font-weight="bold" font-style="italic" text-anchor="start">S</text>
<text transform="translate(1156 150.4)" font-family="'Liberation Sans',sans-serif" font-size="13" fill="#0A9632" font-weight="normal" font-style="normal" text-anchor="start">=</text>
<text transform="translate(1170 150.4)" font-family="'Liberation Sans',sans-serif" font-size="12.75" fill="#0A9632" font-weight="normal" font-style="normal" text-anchor="start">Meeting/study pod</text>
<text transform="translate(671 344.9)" font-family="'Liberation Serif',serif" font-size="23" fill="#10AA3C" font-weight="bold" font-style="italic" text-anchor="start">i</text>
<text transform="translate(841 563.9)" font-family="'Liberation Serif',serif" font-size="23" fill="#10AA3C" font-weight="bold" font-style="italic" text-anchor="start">i</text>
<text transform="translate(917.5 548.9)" font-family="'Liberation Serif',serif" font-size="23" fill="#10AA3C" font-weight="bold" font-style="italic" text-anchor="start">S</text>
<g transform="translate(508 118) scale(1.000 1.000)" fill="none" stroke="#6E6428" stroke-width="1.4" stroke-linecap="round" stroke-linejoin="round"><circle cx="8.5" cy="3" r="2.6"/><path d="M9,6 L10,17 L18.5,17 L22,27.5 L26,26"/><path d="M9.6,11 L15.5,11"/><path d="M8.2,13.5 A10,10 0 1 0 19.5,25.5"/><circle cx="24.5" cy="28" r="1.3"/></g>
<g transform="translate(538 110.5) scale(0.923 0.917)" fill="#6E6428"><ellipse cx="13" cy="4" rx="5.6" ry="3.8"/><path d="M2,8.6 Q0,8.6 0,10.6 L0,22 Q0,23.5 2,23.5 Q4,23.5 4,22 L4,14 L5,14 L5,34.5 Q5,36 6.5,36 L10.1,36 Q11.6,36 11.6,34.5 L11.6,23 L14.4,23 L14.4,34.5 Q14.4,36 15.9,36 L19.5,36 Q21,36 21,34.5 L21,14 L22,14 L22,22 Q22,23.5 24,23.5 Q26,23.5 26,22 L26,10.6 Q26,8.6 24,8.6 Z"/></g>
<g transform="translate(568 100) scale(0.923 0.944)" fill="#6E6428"><ellipse cx="13" cy="3.6" rx="4.6" ry="3.5"/><path d="M9,8.5 Q7,8.5 6.2,10.5 L0.5,19.5 L3,21 L7.8,14 L3.5,26.5 L8.6,26.5 L8.6,36 L12,36 L12,26.5 L14,26.5 L14,36 L17.4,36 L17.4,26.5 L22.5,26.5 L18.2,14 L23,21 L25.5,19.5 L19.8,10.5 Q19,8.5 17,8.5 Z"/></g>
<g transform="translate(494 702.5) scale(1.000 1.000)" fill="#6E6428"><ellipse cx="13" cy="4" rx="5.6" ry="3.8"/><path d="M2,8.6 Q0,8.6 0,10.6 L0,22 Q0,23.5 2,23.5 Q4,23.5 4,22 L4,14 L5,14 L5,34.5 Q5,36 6.5,36 L10.1,36 Q11.6,36 11.6,34.5 L11.6,23 L14.4,23 L14.4,34.5 Q14.4,36 15.9,36 L19.5,36 Q21,36 21,34.5 L21,14 L22,14 L22,22 Q22,23.5 24,23.5 Q26,23.5 26,22 L26,10.6 Q26,8.6 24,8.6 Z"/></g>
<g transform="translate(526.5 701) scale(1.038 1.042)" fill="#6E6428"><ellipse cx="13" cy="3.6" rx="4.6" ry="3.5"/><path d="M9,8.5 Q7,8.5 6.2,10.5 L0.5,19.5 L3,21 L7.8,14 L3.5,26.5 L8.6,26.5 L8.6,36 L12,36 L12,26.5 L14,26.5 L14,36 L17.4,36 L17.4,26.5 L22.5,26.5 L18.2,14 L23,21 L25.5,19.5 L19.8,10.5 Q19,8.5 17,8.5 Z"/></g>
<g transform="translate(525 742) scale(1.000 0.971)" fill="none" stroke="#6E6428" stroke-width="1.4" stroke-linecap="round" stroke-linejoin="round"><circle cx="8.5" cy="3" r="2.6"/><path d="M9,6 L10,17 L18.5,17 L22,27.5 L26,26"/><path d="M9.6,11 L15.5,11"/><path d="M8.2,13.5 A10,10 0 1 0 19.5,25.5"/><circle cx="24.5" cy="28" r="1.3"/></g>
</svg></body></html>
